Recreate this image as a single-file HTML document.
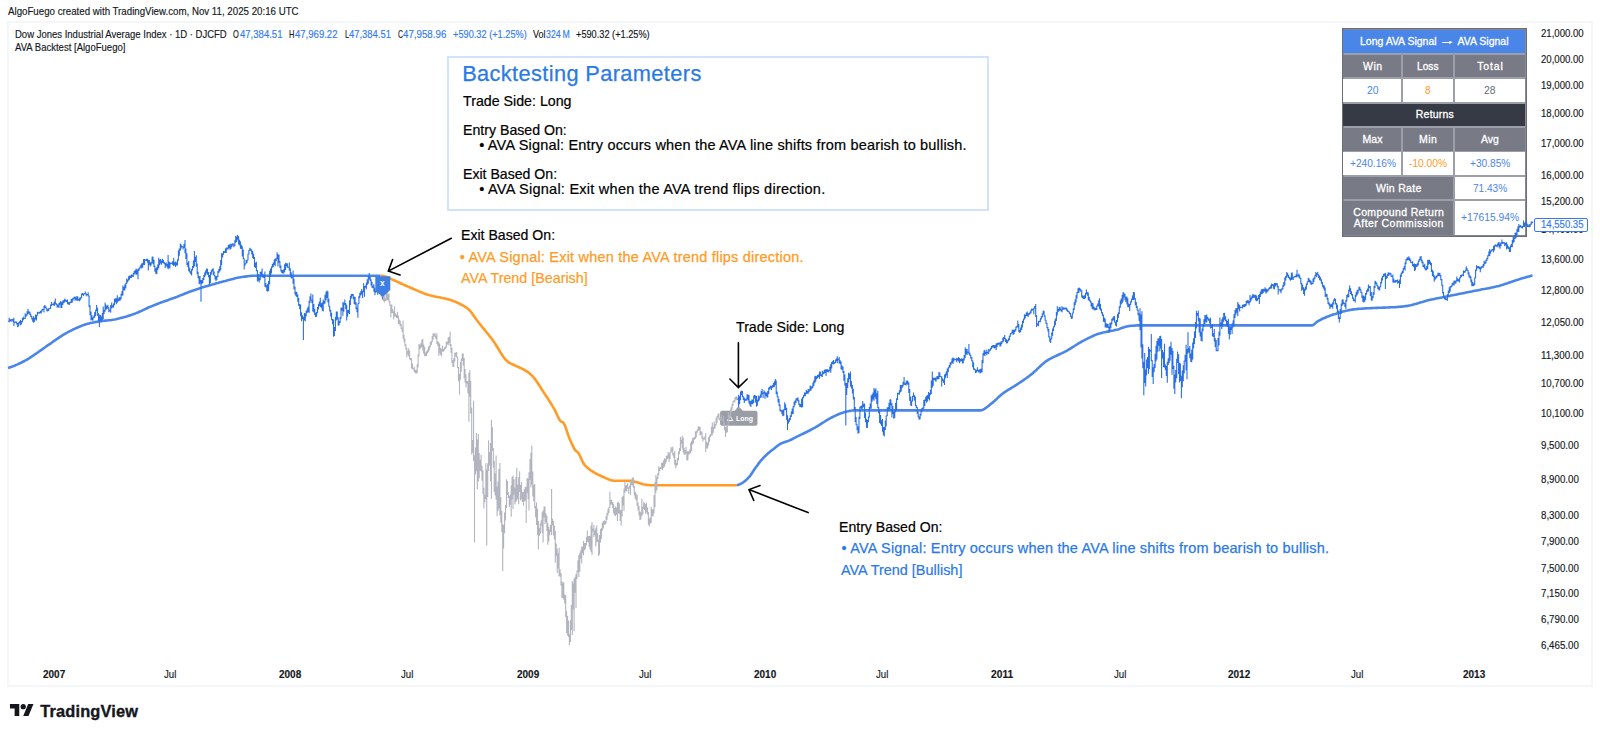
<!DOCTYPE html>
<html lang="en"><head><meta charset="utf-8">
<title>AVA Backtest - Dow Jones Industrial Average Index</title>
<style>
html,body{margin:0;padding:0;background:#fff;}
body{width:1600px;height:735px;position:relative;overflow:hidden;font-family:"Liberation Sans", sans-serif;}
.t{position:absolute;white-space:pre;line-height:1;transform-origin:0 0;font-family:"Liberation Sans", sans-serif;z-index:4;}
#frame{position:absolute;left:7px;top:21px;width:1582px;height:662px;border:2px solid #f5f6f8;box-sizing:content-box;}
#bp{position:absolute;left:447px;top:56px;width:538px;height:151px;border:2px solid #d2e2fb;}
.ar{display:inline-block;transform:scaleX(1.55);margin:0 2.6px;letter-spacing:0;position:relative;top:-0.8px;}
#tbl{position:absolute;z-index:1;}
.c{position:absolute;z-index:2;}
#chart{position:absolute;left:0;top:0;z-index:3;}
#plbox{position:absolute;left:1534px;top:218.2px;width:52.2px;height:12.2px;border:1px solid #3179f5;border-radius:2px;background:#fff;z-index:5;}
</style></head><body>
<div id="frame"></div>
<div id="bp"></div>
<div id="tbl" style="left:1341.8px;top:28.4px;width:184.8px;height:208.8px;background:#9c9fa8;border:0;box-shadow:inset 0 0 0 1.4px #6b6e79"></div>
<div class="c" style="left:1343.2px;top:29.9px;width:182.0px;height:22.9px;background:#4a86e8"></div>
<div class="c" style="left:1343.2px;top:54.6px;width:57.9px;height:22.7px;background:#787b86"></div>
<div class="c" style="left:1343.2px;top:78.9px;width:57.9px;height:22.9px;background:#fff"></div>
<div class="c" style="left:1343.2px;top:128.0px;width:57.9px;height:22.7px;background:#787b86"></div>
<div class="c" style="left:1343.2px;top:151.9px;width:57.9px;height:23.2px;background:#fff"></div>
<div class="c" style="left:1402.8px;top:54.6px;width:50.4px;height:22.7px;background:#787b86"></div>
<div class="c" style="left:1402.8px;top:78.9px;width:50.4px;height:22.9px;background:#fff"></div>
<div class="c" style="left:1402.8px;top:128.0px;width:50.4px;height:22.7px;background:#787b86"></div>
<div class="c" style="left:1402.8px;top:151.9px;width:50.4px;height:23.2px;background:#fff"></div>
<div class="c" style="left:1454.9px;top:54.6px;width:70.3px;height:22.7px;background:#787b86"></div>
<div class="c" style="left:1454.9px;top:78.9px;width:70.3px;height:22.9px;background:#fff"></div>
<div class="c" style="left:1454.9px;top:128.0px;width:70.3px;height:22.7px;background:#787b86"></div>
<div class="c" style="left:1454.9px;top:151.9px;width:70.3px;height:23.2px;background:#fff"></div>
<div class="c" style="left:1343.2px;top:103.5px;width:182.0px;height:22.4px;background:#363a45"></div>
<div class="c" style="left:1343.2px;top:176.9px;width:110.0px;height:22.5px;background:#787b86"></div>
<div class="c" style="left:1454.9px;top:176.9px;width:70.3px;height:22.5px;background:#fff"></div>
<div class="c" style="left:1343.2px;top:201.0px;width:110.0px;height:34.4px;background:#787b86"></div>
<div class="c" style="left:1454.9px;top:201.0px;width:70.3px;height:34.4px;background:#fff"></div>
<svg id="chart" width="1600" height="735" viewBox="0 0 1600 735">
<g fill="none" stroke-width="2.6" stroke-linejoin="round" stroke-linecap="butt">
<polyline stroke="#4a86e8" points="8.0,368.0 9.5,367.5 11.0,367.0 12.5,366.5 14.0,365.9 15.5,365.2 17.0,364.6 18.5,363.9 20.0,363.2 21.5,362.5 23.0,361.7 24.5,361.0 25.0,360.7 26.0,360.2 27.5,359.3 29.0,358.4 30.5,357.4 32.0,356.4 33.5,355.4 35.0,354.3 36.5,353.3 37.5,352.6 38.0,352.3 39.5,351.2 41.0,350.2 42.5,349.1 44.0,348.0 45.5,347.0 47.0,345.9 48.5,344.8 50.0,343.8 51.5,342.8 53.0,341.7 54.5,340.7 56.0,339.6 57.5,338.6 59.0,337.6 60.5,336.6 62.0,335.6 63.5,334.7 65.0,333.8 66.5,333.0 68.0,332.1 69.5,331.3 71.0,330.6 72.5,329.8 74.0,329.1 75.5,328.4 77.0,327.8 77.6,327.5 78.5,327.1 80.0,326.5 81.5,325.9 83.0,325.3 84.5,324.8 86.0,324.3 87.5,323.8 87.6,323.8 89.0,323.4 90.5,323.1 92.0,322.7 93.5,322.4 95.0,322.1 96.5,321.9 98.0,321.6 99.5,321.4 100.0,321.3 101.0,321.2 102.5,321.0 104.0,320.8 105.5,320.6 107.0,320.5 108.5,320.3 110.0,320.2 111.5,320.0 112.6,319.8 113.0,319.7 114.5,319.5 116.0,319.2 117.5,318.8 119.0,318.5 120.5,318.1 122.0,317.7 123.5,317.3 125.0,316.9 126.5,316.5 128.0,316.0 129.5,315.5 131.0,315.0 132.5,314.5 134.0,313.9 135.5,313.4 137.0,312.8 137.7,312.5 138.5,312.2 140.0,311.5 141.5,310.9 143.0,310.1 144.5,309.4 146.0,308.7 147.5,308.0 149.0,307.3 150.0,306.9 150.5,306.7 152.0,306.1 153.5,305.5 155.0,304.9 156.5,304.3 158.0,303.7 159.5,303.1 161.0,302.5 162.5,302.0 162.7,301.9 164.0,301.4 165.5,300.9 167.0,300.4 168.5,299.9 170.0,299.3 171.5,298.8 173.0,298.3 174.5,297.8 175.2,297.5 176.0,297.2 177.5,296.6 179.0,296.0 180.5,295.4 182.0,294.8 183.5,294.2 185.0,293.5 186.5,293.0 187.7,292.5 188.0,292.4 189.5,291.8 191.0,291.3 192.5,290.7 194.0,290.2 195.5,289.7 197.0,289.2 198.5,288.7 200.0,288.2 201.5,287.7 201.8,287.6 203.0,287.2 204.5,286.8 206.0,286.3 207.5,285.9 209.0,285.4 210.5,285.0 212.0,284.6 213.5,284.2 215.0,283.7 216.5,283.3 218.0,282.9 219.5,282.5 221.0,282.1 222.5,281.7 224.0,281.3 225.3,281.0 225.5,280.9 227.0,280.5 228.5,280.1 230.0,279.7 231.5,279.3 233.0,278.9 234.5,278.5 236.0,278.1 237.5,277.8 239.0,277.5 240.3,277.3 240.5,277.3 242.0,277.0 243.5,276.8 245.0,276.6 246.5,276.4 248.0,276.2 249.5,276.0 251.0,275.9 252.5,275.8 253.4,275.8 254.0,275.8 255.5,275.8 257.0,275.7 258.5,275.7 260.0,275.7 261.5,275.7 262.0,275.7 263.0,275.7 264.5,275.7 266.0,275.7 267.5,275.7 269.0,275.7 270.5,275.7 272.0,275.7 273.5,275.7 275.0,275.7 276.5,275.7 278.0,275.7 279.5,275.7 281.0,275.7 282.5,275.7 284.0,275.7 285.5,275.7 287.0,275.7 288.5,275.7 290.0,275.7 291.5,275.7 293.0,275.7 294.5,275.7 296.0,275.7 297.5,275.7 299.0,275.7 300.5,275.7 302.0,275.7 303.5,275.7 305.0,275.7 306.5,275.7 308.0,275.7 309.5,275.7 311.0,275.7 312.5,275.7 314.0,275.7 315.5,275.7 317.0,275.7 318.5,275.7 320.0,275.7 321.5,275.7 323.0,275.7 324.5,275.7 326.0,275.7 327.5,275.7 329.0,275.7 330.5,275.7 332.0,275.7 333.5,275.7 335.0,275.7 336.5,275.7 338.0,275.7 339.5,275.7 341.0,275.7 342.5,275.7 344.0,275.7 345.5,275.7 347.0,275.7 348.5,275.7 350.0,275.7 351.5,275.7 353.0,275.7 354.5,275.7 356.0,275.7 357.5,275.7 359.0,275.7 360.5,275.7 362.0,275.7 363.5,275.7 365.0,275.7 366.5,275.7 368.0,275.7 369.5,275.7 371.0,275.7 372.5,275.7 374.0,275.7 375.5,275.7 377.0,275.7 378.5,275.7 380.0,275.7 380.5,275.7"/>
<polyline stroke="#ff9b26" points="380.5,275.7 382.0,275.8 383.5,276.1 385.0,276.4 386.5,276.9 388.0,277.5 389.5,278.2 391.0,278.9 391.4,279.1 392.5,279.6 394.0,280.2 395.5,280.9 397.0,281.6 398.5,282.3 400.0,283.0 401.5,283.7 403.0,284.4 404.5,285.0 406.0,285.7 407.5,286.4 409.0,287.0 410.1,287.5 410.5,287.7 412.0,288.3 413.5,289.0 415.0,289.6 416.5,290.3 418.0,290.9 419.5,291.6 421.0,292.2 422.5,292.8 424.0,293.4 425.5,293.9 427.0,294.4 428.5,294.9 428.9,295.0 430.0,295.3 431.5,295.7 433.0,296.1 434.5,296.4 436.0,296.7 437.5,297.0 439.0,297.3 440.5,297.6 442.0,297.9 443.5,298.2 445.0,298.5 446.5,298.9 448.0,299.2 449.5,299.7 449.6,299.7 451.0,300.1 452.5,300.7 454.0,301.3 455.5,301.9 457.0,302.5 458.0,303.0 458.5,303.2 460.0,304.0 461.5,304.7 463.0,305.5 464.5,306.4 466.0,307.4 467.5,308.5 468.3,309.1 469.0,309.7 470.5,311.3 472.0,313.3 473.5,315.4 475.0,317.6 476.5,319.7 477.7,321.3 478.0,321.7 479.5,323.6 481.0,325.4 482.5,327.3 484.0,329.1 485.5,331.0 487.0,332.8 488.5,334.7 490.0,336.6 491.5,338.5 492.7,340.1 493.0,340.5 494.5,342.7 496.0,345.0 497.5,347.5 499.0,350.0 500.5,352.4 502.0,354.8 503.5,357.0 505.0,359.0 506.5,360.6 507.8,361.7 508.0,361.8 509.5,362.8 511.0,363.6 512.5,364.3 514.0,365.0 515.0,365.5 515.5,365.7 517.0,366.4 518.5,367.1 520.0,367.8 521.5,368.4 523.0,369.2 524.5,370.0 524.7,370.1 526.0,370.9 527.5,371.9 529.0,373.0 530.5,374.2 532.0,375.6 533.5,377.2 535.0,379.1 536.5,381.2 538.0,383.5 539.5,385.8 541.0,388.2 542.5,390.5 543.2,391.6 544.0,392.8 545.5,395.1 547.0,397.3 548.5,399.6 550.0,402.0 551.5,404.4 553.0,406.9 554.5,409.4 556.0,412.4 557.5,415.8 559.0,418.9 560.5,421.1 561.0,421.5 562.0,421.9 563.0,422.3 563.5,422.8 565.0,425.6 566.5,429.9 568.0,434.5 569.5,438.5 571.0,441.9 572.5,445.2 574.0,448.2 575.5,450.5 576.0,451.0 577.0,451.6 577.5,452.0 578.5,453.2 580.0,456.0 581.5,459.3 583.0,462.5 584.5,464.8 586.0,466.4 587.5,467.8 589.0,469.0 590.5,470.1 592.0,471.1 593.5,472.1 593.9,472.3 595.0,473.0 596.5,473.8 598.0,474.6 599.5,475.3 601.0,476.0 602.5,476.7 603.3,477.0 604.0,477.3 605.5,478.0 607.0,478.6 608.5,479.3 610.0,479.9 611.5,480.3 613.0,480.7 614.5,480.8 614.6,480.8 616.0,480.8 617.5,480.8 619.0,480.8 620.5,480.8 622.0,480.8 623.5,480.8 625.0,480.8 626.5,480.8 627.7,480.8 628.0,480.8 629.5,480.9 631.0,481.1 632.5,481.3 634.0,481.6 635.5,482.0 637.0,482.3 637.1,482.3 638.5,482.7 640.0,483.2 641.5,483.7 643.0,484.2 644.5,484.5 644.6,484.5 646.0,484.7 647.5,484.9 649.0,485.0 650.5,485.2 652.0,485.3 653.5,485.3 654.0,485.3 655.0,485.3 656.5,485.3 658.0,485.3 659.5,485.3 661.0,485.3 662.5,485.3 664.0,485.3 665.5,485.3 667.0,485.3 668.5,485.3 670.0,485.3 671.5,485.3 673.0,485.3 674.5,485.3 676.0,485.3 677.5,485.3 679.0,485.3 680.5,485.3 682.0,485.3 683.5,485.3 685.0,485.3 686.5,485.3 688.0,485.3 689.5,485.3 691.0,485.3 692.5,485.3 694.0,485.3 695.5,485.3 697.0,485.3 698.5,485.3 700.0,485.3 701.5,485.3 703.0,485.3 704.5,485.3 706.0,485.3 707.5,485.3 709.0,485.3 710.5,485.3 712.0,485.3 713.5,485.3 715.0,485.3 716.5,485.3 718.0,485.3 719.5,485.3 721.0,485.3 722.5,485.3 724.0,485.3 725.5,485.3 727.0,485.3 728.5,485.3 730.0,485.3 731.5,485.3 733.0,485.3 734.5,485.3 736.0,485.3 737.0,485.3"/>
<polyline stroke="#4a86e8" points="737.0,485.3 738.5,484.8 740.0,484.2 741.5,483.4 742.4,482.9 743.0,482.5 744.5,481.4 746.0,480.1 747.5,478.7 749.0,477.1 750.5,475.3 752.0,473.1 753.5,470.8 755.0,468.6 755.7,467.6 756.5,466.5 758.0,464.4 759.5,462.4 761.0,460.5 761.4,460.0 762.5,458.8 764.0,457.2 765.5,455.8 767.0,454.4 767.1,454.3 768.5,453.1 770.0,451.8 771.5,450.6 772.9,449.5 773.0,449.4 774.5,448.2 776.0,447.0 777.5,445.8 779.0,444.7 780.5,443.8 782.0,443.1 783.5,442.5 785.0,442.0 786.5,441.5 788.0,441.0 789.5,440.4 790.0,440.2 791.0,439.7 792.5,439.0 794.0,438.2 795.1,437.6 795.5,437.4 797.0,436.6 798.5,435.9 800.0,435.2 801.5,434.4 803.0,433.7 804.5,433.0 806.0,432.3 807.5,431.5 809.0,430.8 810.5,430.0 812.0,429.2 813.5,428.4 813.9,428.2 815.0,427.6 816.5,426.7 818.0,425.8 819.5,424.9 821.0,423.9 822.5,422.9 824.0,422.0 825.5,421.0 827.0,420.1 828.5,419.2 830.0,418.4 831.5,417.5 832.6,417.0 833.0,416.8 834.5,416.1 836.0,415.4 837.5,414.7 839.0,414.0 840.5,413.4 842.0,412.9 843.5,412.4 843.9,412.3 845.0,412.0 846.5,411.6 848.0,411.3 849.5,410.9 851.0,410.7 852.5,410.5 854.0,410.4 854.2,410.4 855.5,410.4 857.0,410.4 858.5,410.4 860.0,410.4 861.5,410.4 863.0,410.4 864.5,410.4 866.0,410.4 867.5,410.4 869.0,410.4 870.5,410.4 872.0,410.4 873.5,410.4 875.0,410.4 876.5,410.4 878.0,410.4 879.5,410.4 881.0,410.4 882.5,410.4 884.0,410.4 885.5,410.4 887.0,410.4 888.5,410.4 890.0,410.4 891.5,410.4 893.0,410.4 894.5,410.4 896.0,410.4 897.5,410.4 899.0,410.4 900.5,410.4 902.0,410.4 903.5,410.4 905.0,410.4 906.5,410.4 908.0,410.4 909.5,410.4 911.0,410.4 912.5,410.4 914.0,410.4 915.5,410.4 917.0,410.4 918.5,410.4 920.0,410.4 921.5,410.4 923.0,410.4 924.5,410.4 926.0,410.4 927.5,410.4 929.0,410.4 930.5,410.4 932.0,410.4 933.5,410.4 935.0,410.4 936.5,410.4 938.0,410.4 939.5,410.4 941.0,410.4 942.5,410.4 944.0,410.4 945.5,410.4 947.0,410.4 948.5,410.4 950.0,410.4 951.5,410.4 953.0,410.4 954.5,410.4 956.0,410.4 957.5,410.4 959.0,410.4 960.5,410.4 962.0,410.4 963.5,410.4 965.0,410.4 966.5,410.4 968.0,410.4 969.5,410.4 971.0,410.4 972.5,410.4 974.0,410.4 975.5,410.4 977.0,410.4 978.5,410.4 980.0,410.4 981.5,410.2 983.0,409.7 984.5,408.9 986.0,407.8 987.5,406.7 989.0,405.5 990.5,404.2 992.0,403.0 992.2,402.9 993.5,401.9 995.0,400.5 996.5,399.1 998.0,397.6 999.5,396.2 1001.0,394.9 1001.6,394.4 1002.5,393.7 1004.0,392.6 1005.5,391.6 1007.0,390.7 1008.5,389.7 1010.0,388.8 1011.5,387.9 1013.0,387.0 1014.5,386.1 1016.0,385.1 1017.5,384.2 1018.8,383.3 1019.0,383.2 1020.5,382.1 1022.0,381.1 1023.5,380.1 1025.0,379.0 1026.5,378.0 1028.0,376.9 1029.5,375.7 1031.0,374.6 1031.9,373.9 1032.5,373.4 1034.0,372.1 1035.5,370.8 1037.0,369.3 1038.5,367.9 1040.0,366.5 1041.5,365.0 1043.0,363.7 1044.5,362.4 1046.0,361.3 1046.9,360.7 1047.5,360.3 1049.0,359.4 1050.5,358.6 1052.0,357.8 1053.5,357.1 1055.0,356.4 1056.5,355.7 1058.0,355.0 1059.5,354.3 1061.0,353.6 1062.5,352.9 1064.0,352.2 1065.5,351.4 1065.7,351.3 1067.0,350.6 1068.5,349.7 1070.0,348.8 1071.5,347.9 1073.0,346.9 1074.5,346.0 1076.0,345.0 1077.5,344.1 1079.0,343.2 1080.5,342.3 1082.0,341.4 1083.5,340.6 1084.5,340.1 1085.0,339.8 1086.5,339.1 1088.0,338.3 1089.5,337.6 1091.0,336.9 1092.5,336.2 1094.0,335.5 1095.5,334.9 1097.0,334.3 1098.5,333.8 1099.5,333.5 1100.0,333.4 1101.5,333.0 1103.0,332.6 1104.5,332.3 1106.0,331.9 1107.5,331.6 1109.0,331.4 1110.5,331.1 1112.0,330.8 1113.5,330.5 1115.0,330.1 1116.4,329.8 1116.5,329.8 1118.0,329.4 1119.5,328.9 1121.0,328.3 1122.5,327.8 1124.0,327.3 1125.5,326.8 1127.0,326.4 1128.5,326.1 1129.5,326.0 1130.0,325.9 1131.5,325.8 1133.0,325.7 1134.5,325.6 1136.0,325.5 1137.5,325.4 1138.9,325.4 1139.0,325.4 1140.5,325.4 1142.0,325.4 1143.5,325.4 1145.0,325.4 1146.5,325.4 1148.0,325.4 1149.5,325.4 1151.0,325.4 1152.5,325.4 1154.0,325.4 1155.5,325.4 1157.0,325.4 1158.5,325.4 1160.0,325.4 1161.5,325.4 1163.0,325.4 1164.5,325.4 1166.0,325.4 1167.5,325.4 1169.0,325.4 1170.5,325.4 1172.0,325.4 1173.5,325.4 1175.0,325.4 1176.5,325.4 1178.0,325.4 1179.5,325.4 1181.0,325.4 1182.5,325.4 1184.0,325.4 1185.5,325.4 1187.0,325.4 1188.5,325.4 1190.0,325.4 1191.5,325.4 1193.0,325.4 1194.5,325.4 1196.0,325.4 1197.5,325.4 1199.0,325.4 1200.5,325.4 1202.0,325.4 1203.5,325.4 1205.0,325.4 1206.5,325.4 1208.0,325.4 1209.5,325.4 1211.0,325.4 1212.5,325.4 1214.0,325.4 1215.5,325.4 1217.0,325.4 1218.5,325.4 1220.0,325.4 1221.5,325.4 1223.0,325.4 1224.5,325.4 1226.0,325.4 1227.5,325.4 1229.0,325.4 1230.5,325.4 1232.0,325.4 1233.5,325.4 1235.0,325.4 1236.5,325.4 1238.0,325.4 1239.5,325.4 1241.0,325.4 1242.5,325.4 1244.0,325.4 1245.5,325.4 1247.0,325.4 1248.5,325.4 1250.0,325.4 1251.5,325.4 1253.0,325.4 1254.5,325.4 1256.0,325.4 1257.5,325.4 1259.0,325.4 1260.5,325.4 1262.0,325.4 1263.5,325.4 1265.0,325.4 1266.5,325.4 1268.0,325.4 1269.5,325.4 1271.0,325.4 1272.5,325.4 1274.0,325.4 1275.5,325.4 1277.0,325.4 1278.5,325.4 1280.0,325.4 1281.5,325.4 1283.0,325.4 1284.5,325.4 1286.0,325.4 1287.5,325.4 1289.0,325.4 1290.5,325.4 1292.0,325.4 1293.5,325.4 1295.0,325.4 1296.5,325.4 1298.0,325.4 1299.5,325.4 1301.0,325.4 1302.5,325.4 1304.0,325.4 1305.5,325.4 1307.0,325.4 1308.5,325.4 1310.0,325.4 1311.5,325.4 1311.9,325.4 1313.0,325.1 1314.5,324.0 1316.0,322.6 1317.5,321.4 1319.0,320.6 1320.5,319.8 1322.0,319.0 1323.5,318.3 1325.0,317.7 1326.5,317.0 1328.0,316.4 1329.5,315.9 1331.0,315.3 1332.5,314.8 1332.6,314.8 1334.0,314.3 1335.5,313.9 1337.0,313.4 1338.5,312.9 1340.0,312.5 1341.5,312.0 1343.0,311.6 1344.5,311.2 1346.0,310.8 1347.5,310.5 1349.0,310.1 1350.5,309.9 1352.0,309.6 1353.5,309.4 1355.0,309.2 1355.1,309.2 1356.5,309.1 1358.0,308.9 1359.5,308.8 1361.0,308.7 1362.5,308.6 1364.0,308.5 1365.5,308.4 1367.0,308.3 1368.5,308.2 1370.0,308.2 1371.5,308.1 1373.0,308.0 1374.5,308.0 1376.0,307.9 1377.5,307.9 1379.0,307.8 1380.5,307.8 1382.0,307.7 1383.5,307.6 1385.0,307.6 1386.5,307.5 1388.0,307.5 1389.5,307.4 1391.0,307.3 1392.5,307.2 1394.0,307.2 1395.5,307.1 1397.0,307.0 1398.5,306.9 1400.0,306.8 1401.5,306.6 1403.0,306.5 1403.9,306.4 1404.5,306.3 1406.0,306.1 1407.5,305.9 1409.0,305.6 1410.5,305.3 1412.0,304.9 1413.5,304.5 1415.0,304.1 1416.5,303.7 1418.0,303.2 1419.5,302.8 1421.0,302.3 1422.5,301.9 1424.0,301.4 1425.5,301.0 1427.0,300.6 1428.5,300.2 1430.0,299.8 1430.2,299.8 1431.5,299.5 1433.0,299.2 1434.5,298.9 1436.0,298.6 1437.5,298.3 1439.0,298.0 1440.5,297.7 1442.0,297.4 1443.5,297.1 1445.0,296.8 1446.5,296.5 1448.0,296.2 1449.0,296.0 1449.5,295.9 1451.0,295.6 1452.5,295.3 1454.0,295.0 1455.5,294.7 1457.0,294.4 1458.5,294.1 1460.0,293.8 1461.5,293.5 1463.0,293.2 1464.5,292.9 1466.0,292.6 1467.5,292.3 1469.0,292.0 1470.5,291.7 1472.0,291.4 1473.5,291.1 1475.0,290.8 1476.5,290.5 1477.1,290.4 1478.0,290.2 1479.5,289.9 1481.0,289.6 1482.5,289.3 1484.0,289.0 1485.5,288.8 1487.0,288.5 1488.5,288.2 1490.0,287.9 1491.5,287.6 1493.0,287.3 1494.5,286.9 1496.0,286.6 1497.5,286.2 1499.0,285.9 1499.6,285.7 1500.5,285.5 1502.0,285.0 1503.5,284.6 1505.0,284.1 1506.5,283.6 1508.0,283.0 1509.5,282.5 1511.0,282.0 1512.5,281.4 1514.0,280.9 1515.5,280.4 1516.5,280.1 1517.0,279.9 1518.5,279.5 1520.0,279.0 1521.5,278.6 1523.0,278.1 1524.5,277.7 1526.0,277.2 1527.5,276.8 1529.0,276.4 1530.5,276.0 1532.0,275.5 1532.5,275.4"/>
</g>
<path d="M722.1 410.7h12.6l3.7-4.5 4.5 4.5h12.6a2 2 0 0 1 2 2v11a2 2 0 0 1-2 2h-33.4a2 2 0 0 1-2-2v-11a2 2 0 0 1 2-2z" fill="#9b9da6"/>
<path d="M727.3 420.6l2.7-4.8 2.7 4.8z" fill="none" stroke="#fff" stroke-width="1"/>
<g fill="none" stroke-width="1.1" stroke-linecap="butt">
<path stroke="#2a70e4" d="M9.2 317.8V322.2M8.2 321.4h1M9.2 320.3h1M10.1 319.4V321.3M9.1 320.3h1M10.1 320.3h1M11.1 318.9V321.9M10.1 320.3h1M11.1 320.0h1M12.0 319.7V320.5M11.0 320.0h1M12.0 319.9h1M13.0 318.7V321.8M12.0 319.9h1M13.0 321.6h1M13.9 317.8V325.9M12.9 321.6h1M13.9 322.7h1M14.8 321.9V323.0M13.8 322.7h1M14.8 322.2h1M15.8 321.2V322.5M14.8 322.2h1M15.8 322.1h1M16.7 321.8V324.4M15.7 322.1h1M16.7 323.7h1M17.7 323.0V327.3M16.7 323.7h1M17.7 325.5h1M18.6 322.2V326.6M17.6 325.5h1M18.6 323.0h1M19.5 321.2V323.5M18.5 323.0h1M19.5 321.9h1M20.5 320.1V325.3M19.5 321.9h1M20.5 324.0h1M21.4 321.1V324.4M20.4 324.0h1M21.4 321.6h1M22.4 318.1V322.3M21.4 321.6h1M22.4 319.6h1M23.3 316.4V320.2M22.3 319.6h1M23.3 318.3h1M24.2 318.1V318.8M23.2 318.3h1M24.2 318.4h1M25.2 313.3V319.1M24.2 318.4h1M25.2 315.7h1M26.1 314.6V316.7M25.1 315.7h1M26.1 314.9h1M27.1 311.3V315.4M26.1 314.9h1M27.1 312.9h1M28.0 308.8V314.3M27.0 312.9h1M28.0 311.9h1M28.9 311.6V313.5M27.9 311.9h1M28.9 313.0h1M29.9 311.4V315.0M28.9 313.0h1M29.9 314.7h1M30.8 313.7V317.0M29.8 314.7h1M30.8 316.3h1M31.8 315.9V319.4M30.8 316.3h1M31.8 318.3h1M32.7 318.0V321.8M31.7 318.3h1M32.7 321.1h1M33.6 316.3V322.7M32.6 321.1h1M33.6 319.7h1M34.6 317.8V321.8M33.6 319.7h1M34.6 318.3h1M35.5 314.5V319.4M34.5 318.3h1M35.5 316.4h1M36.5 315.0V320.6M35.5 316.4h1M36.5 315.3h1M37.4 311.8V315.8M36.4 315.3h1M37.4 313.3h1M38.3 312.2V313.5M37.3 313.3h1M38.3 312.7h1M39.3 312.0V313.7M38.3 312.7h1M39.3 312.5h1M40.2 311.0V313.2M39.2 312.5h1M40.2 311.7h1M41.2 310.3V313.6M40.2 311.7h1M41.2 311.2h1M42.1 309.0V311.6M41.1 311.2h1M42.1 309.4h1M43.0 309.0V310.1M42.0 309.4h1M43.0 309.7h1M44.0 305.9V312.4M43.0 309.7h1M44.0 307.3h1M44.9 305.1V308.3M43.9 307.3h1M44.9 307.2h1M45.9 306.5V308.5M44.9 307.2h1M45.9 308.2h1M46.8 307.8V311.2M45.8 308.2h1M46.8 309.9h1M47.7 309.2V311.6M46.7 309.9h1M47.7 309.6h1M48.7 308.2V311.0M47.7 309.6h1M48.7 308.5h1M49.6 308.1V309.0M48.6 308.5h1M49.6 308.4h1M50.6 304.6V308.9M49.6 308.4h1M50.6 305.6h1M51.5 302.1V306.0M50.5 305.6h1M51.5 304.5h1M52.4 303.7V305.0M51.4 304.5h1M52.4 304.7h1M53.4 303.4V305.3M52.4 304.7h1M53.4 303.8h1M54.3 301.6V305.9M53.3 303.8h1M54.3 302.2h1M55.3 298.5V304.5M54.3 302.2h1M55.3 303.4h1M56.2 303.0V304.7M55.2 303.4h1M56.2 304.5h1M57.1 304.3V307.4M56.1 304.5h1M57.1 305.1h1M58.1 304.8V307.4M57.1 305.1h1M58.1 306.4h1M59.0 303.1V307.7M58.0 306.4h1M59.0 303.8h1M60.0 302.1V304.7M59.0 303.8h1M60.0 302.4h1M60.9 301.0V308.0M59.9 302.4h1M60.9 305.7h1M61.8 302.3V308.1M60.8 305.7h1M61.8 303.9h1M62.8 300.4V305.1M61.8 303.9h1M62.8 301.0h1M63.7 300.3V303.2M62.7 301.0h1M63.7 301.7h1M64.7 298.6V302.6M63.7 301.7h1M64.7 300.5h1M65.6 299.6V301.6M64.6 300.5h1M65.6 300.6h1M66.5 300.3V301.9M65.5 300.6h1M66.5 300.8h1M67.5 299.5V304.3M66.5 300.8h1M67.5 303.7h1M68.4 302.2V304.6M67.4 303.7h1M68.4 303.6h1M69.4 301.9V305.0M68.4 303.6h1M69.4 302.2h1M70.3 301.9V303.3M69.3 302.2h1M70.3 302.3h1M71.2 299.1V303.1M70.2 302.3h1M71.2 300.4h1M72.2 298.4V302.8M71.2 300.4h1M72.2 299.4h1M73.1 297.8V300.6M72.1 299.4h1M73.1 298.3h1M74.1 296.8V298.6M73.1 298.3h1M74.1 297.2h1M75.0 296.5V300.7M74.0 297.2h1M75.0 298.5h1M75.9 297.2V299.7M74.9 298.5h1M75.9 297.8h1M76.9 296.1V301.0M75.9 297.8h1M76.9 298.6h1M77.8 296.5V300.5M76.8 298.6h1M77.8 299.9h1M78.8 298.9V300.7M77.8 299.9h1M78.8 299.2h1M79.7 297.4V301.2M78.7 299.2h1M79.7 299.3h1M80.6 297.2V299.7M79.6 299.3h1M80.6 297.7h1M81.6 293.6V298.1M80.6 297.7h1M81.6 294.3h1M82.5 293.0V295.1M81.5 294.3h1M82.5 294.1h1M83.5 293.5V295.9M82.5 294.1h1M83.5 294.1h1M84.4 293.3V294.3M83.4 294.1h1M84.4 293.5h1M85.3 291.5V294.1M84.3 293.5h1M85.3 293.9h1M86.3 293.4V296.2M85.3 293.9h1M86.3 294.6h1M87.2 294.4V294.9M86.2 294.6h1M87.2 294.6h1M88.2 292.2V296.5M87.2 294.6h1M88.2 296.0h1M89.1 295.6V306.9M88.1 296.0h1M89.1 306.6h1M90.0 305.2V315.3M89.0 306.6h1M90.0 313.7h1M91.0 311.4V320.5M90.0 313.7h1M91.0 316.3h1M91.9 315.2V320.1M90.9 316.3h1M91.9 319.7h1M92.9 317.6V320.7M91.9 319.7h1M92.9 317.8h1M93.8 315.6V318.6M92.8 317.8h1M93.8 316.2h1M94.7 312.1V317.4M93.7 316.2h1M94.7 313.8h1M95.7 309.8V316.0M94.7 313.8h1M95.7 310.7h1M96.6 305.0V311.0M95.6 310.7h1M96.6 308.2h1M97.6 307.8V315.7M96.6 308.2h1M97.6 314.7h1M98.5 313.3V320.9M97.5 314.7h1M98.5 317.7h1M99.4 314.8V327.0M98.4 317.7h1M99.4 318.9h1M100.4 315.1V320.8M99.4 318.9h1M100.4 319.8h1M101.3 316.5V322.2M100.3 319.8h1M101.3 318.3h1M102.3 312.9V320.1M101.3 318.3h1M102.3 314.3h1M103.2 306.6V319.3M102.2 314.3h1M103.2 311.8h1M104.1 309.8V314.0M103.1 311.8h1M104.1 311.0h1M105.1 302.4V311.7M104.1 311.0h1M105.1 305.0h1M106.0 304.7V309.8M105.0 305.0h1M106.0 308.8h1M107.0 306.0V309.1M106.0 308.8h1M107.0 307.1h1M107.9 304.8V308.3M106.9 307.1h1M107.9 308.0h1M108.8 307.3V312.3M107.8 308.0h1M108.8 310.1h1M109.8 309.8V311.4M108.8 310.1h1M109.8 311.0h1M110.7 305.0V312.7M109.7 311.0h1M110.7 307.5h1M111.7 302.6V308.5M110.7 307.5h1M111.7 306.5h1M112.6 305.4V307.6M111.6 306.5h1M112.6 305.9h1M113.5 303.4V307.7M112.5 305.9h1M113.5 304.1h1M114.5 298.8V305.3M113.5 304.1h1M114.5 301.4h1M115.4 298.2V302.2M114.4 301.4h1M115.4 298.8h1M116.4 298.3V304.3M115.4 298.8h1M116.4 301.7h1M117.3 295.3V302.8M116.3 301.7h1M117.3 299.8h1M118.2 298.6V301.6M117.2 299.8h1M118.2 300.5h1M119.2 297.1V300.7M118.2 300.5h1M119.2 298.5h1M120.1 297.3V300.8M119.1 298.5h1M120.1 298.1h1M121.1 293.7V299.2M120.1 298.1h1M121.1 295.0h1M122.0 291.0V295.8M121.0 295.0h1M122.0 292.2h1M122.9 285.4V295.6M121.9 292.2h1M122.9 289.5h1M123.9 287.0V290.5M122.9 289.5h1M123.9 287.4h1M124.8 284.5V290.5M123.8 287.4h1M124.8 286.8h1M125.8 282.9V288.3M124.8 286.8h1M125.8 283.4h1M126.7 278.4V283.7M125.7 283.4h1M126.7 281.9h1M127.6 279.6V282.4M126.6 281.9h1M127.6 280.1h1M128.6 276.3V280.8M127.6 280.1h1M128.6 278.0h1M129.5 275.6V279.8M128.5 278.0h1M129.5 276.0h1M130.5 275.6V278.1M129.5 276.0h1M130.5 277.0h1M131.4 274.6V277.9M130.4 277.0h1M131.4 275.8h1M132.3 274.8V276.7M131.3 275.8h1M132.3 275.6h1M133.3 272.9V277.0M132.3 275.6h1M133.3 273.4h1M134.2 271.1V274.6M133.2 273.4h1M134.2 272.6h1M135.2 269.9V273.5M134.2 272.6h1M135.2 273.0h1M136.1 268.4V275.3M135.1 273.0h1M136.1 270.4h1M137.0 269.7V274.3M136.0 270.4h1M137.0 270.9h1M138.0 268.8V279.2M137.0 270.9h1M138.0 269.3h1M138.9 268.3V271.1M137.9 269.3h1M138.9 268.9h1M139.9 266.6V269.2M138.9 268.9h1M139.9 267.2h1M140.8 264.7V267.6M139.8 267.2h1M140.8 266.9h1M141.7 263.5V268.5M140.7 266.9h1M141.7 264.3h1M142.7 262.7V267.7M141.7 264.3h1M142.7 264.5h1M143.6 258.9V264.8M142.6 264.5h1M143.6 263.5h1M144.6 259.1V265.1M143.6 263.5h1M144.6 260.2h1M145.5 259.5V260.5M144.5 260.2h1M145.5 260.0h1M146.4 258.8V261.1M145.4 260.0h1M146.4 260.0h1M147.4 258.7V262.6M146.4 260.0h1M147.4 262.2h1M148.3 259.7V270.4M147.3 262.2h1M148.3 264.4h1M149.3 259.9V264.7M148.3 264.4h1M149.3 263.4h1M150.2 262.5V266.4M149.2 263.4h1M150.2 264.4h1M151.1 261.9V265.4M150.1 264.4h1M151.1 262.6h1M152.1 256.8V262.8M151.1 262.6h1M152.1 258.2h1M153.0 256.5V264.2M152.0 258.2h1M153.0 261.7h1M154.0 259.8V267.1M153.0 261.7h1M154.0 266.2h1M154.9 265.7V271.7M153.9 266.2h1M154.9 271.2h1M155.8 268.2V273.7M154.8 271.2h1M155.8 271.5h1M156.8 267.3V274.2M155.8 271.5h1M156.8 269.1h1M157.7 264.5V270.2M156.7 269.1h1M157.7 265.9h1M158.7 257.8V268.2M157.7 265.9h1M158.7 263.1h1M159.6 259.5V265.2M158.6 263.1h1M159.6 261.5h1M160.5 259.1V263.6M159.5 261.5h1M160.5 262.7h1M161.5 260.5V264.7M160.5 262.7h1M161.5 262.2h1M162.4 258.8V263.1M161.4 262.2h1M162.4 260.9h1M163.4 260.1V263.3M162.4 260.9h1M163.4 262.3h1M164.3 262.1V264.2M163.3 262.3h1M164.3 263.5h1M165.2 263.0V268.0M164.2 263.5h1M165.2 264.2h1M166.2 262.6V265.8M165.2 264.2h1M166.2 265.1h1M167.1 263.9V267.6M166.1 265.1h1M167.1 266.8h1M168.1 255.1V269.3M167.1 266.8h1M168.1 267.8h1M169.0 261.4V268.0M168.0 267.8h1M169.0 266.5h1M169.9 262.2V268.4M168.9 266.5h1M169.9 263.6h1M170.9 263.0V264.1M169.9 263.6h1M170.9 263.3h1M171.8 262.5V264.1M170.8 263.3h1M171.8 263.8h1M172.8 261.0V264.9M171.8 263.8h1M172.8 262.2h1M173.7 257.7V265.9M172.7 262.2h1M173.7 264.6h1M174.6 262.3V265.2M173.6 264.6h1M174.6 264.9h1M175.6 261.6V266.9M174.6 264.9h1M175.6 262.9h1M176.5 262.5V265.5M175.5 262.9h1M176.5 264.5h1M177.5 259.4V265.6M176.5 264.5h1M177.5 259.8h1M178.4 250.5V260.7M177.4 259.8h1M178.4 254.3h1M179.3 248.4V255.7M178.3 254.3h1M179.3 249.5h1M180.3 243.5V250.8M179.3 249.5h1M180.3 245.1h1M181.2 244.4V248.4M180.2 245.1h1M181.2 246.6h1M182.2 246.0V247.1M181.2 246.6h1M182.2 246.8h1M183.1 246.4V249.5M182.1 246.8h1M183.1 247.5h1M184.0 243.8V247.8M183.0 247.5h1M184.0 245.7h1M185.0 239.9V253.2M184.0 245.7h1M185.0 249.4h1M185.9 248.5V259.0M184.9 249.4h1M185.9 258.0h1M186.9 253.2V264.9M185.9 258.0h1M186.9 264.3h1M187.8 262.5V267.0M186.8 264.3h1M187.8 266.0h1M188.7 260.9V271.2M187.7 266.0h1M188.7 268.9h1M189.7 267.4V272.6M188.7 268.9h1M189.7 271.7h1M190.6 271.2V274.1M189.6 271.7h1M190.6 273.8h1M191.6 269.1V275.4M190.6 273.8h1M191.6 270.0h1M192.5 265.9V270.6M191.5 270.0h1M192.5 266.9h1M193.4 260.4V268.0M192.4 266.9h1M193.4 262.4h1M194.4 251.1V266.5M193.4 262.4h1M194.4 258.9h1M195.3 257.1V261.9M194.3 258.9h1M195.3 257.4h1M196.3 255.3V266.7M195.3 257.4h1M196.3 265.3h1M197.2 263.6V274.2M196.2 265.3h1M197.2 273.0h1M198.1 271.7V278.3M197.1 273.0h1M198.1 276.8h1M199.1 276.2V284.3M198.1 276.8h1M199.1 279.2h1M200.0 275.9V283.6M199.0 279.2h1M200.0 280.7h1M201.0 280.1V301.7M200.0 280.7h1M201.0 283.6h1M201.9 279.9V283.9M200.9 283.6h1M201.9 281.3h1M202.8 278.1V283.0M201.8 281.3h1M202.8 278.5h1M203.8 274.9V279.9M202.8 278.5h1M203.8 276.1h1M204.7 272.4V276.9M203.7 276.1h1M204.7 272.9h1M205.7 270.2V275.4M204.7 272.9h1M205.7 272.1h1M206.6 268.6V273.5M205.6 272.1h1M206.6 270.8h1M207.5 268.8V274.8M206.5 270.8h1M207.5 274.3h1M208.5 272.0V277.3M207.5 274.3h1M208.5 276.5h1M209.4 275.0V285.5M208.4 276.5h1M209.4 279.6h1M210.4 272.1V283.0M209.4 279.6h1M210.4 274.1h1M211.3 270.2V274.8M210.3 274.1h1M211.3 271.1h1M212.2 269.1V271.4M211.2 271.1h1M212.2 269.4h1M213.2 268.2V274.7M212.2 269.4h1M213.2 273.7h1M214.1 271.6V276.1M213.1 273.7h1M214.1 275.8h1M215.1 275.3V279.6M214.1 275.8h1M215.1 278.1h1M216.0 276.3V281.0M215.0 278.1h1M216.0 279.3h1M216.9 275.9V279.7M215.9 279.3h1M216.9 276.5h1M217.9 270.9V276.9M216.9 276.5h1M217.9 271.7h1M218.8 268.9V273.0M217.8 271.7h1M218.8 270.6h1M219.8 266.3V271.6M218.8 270.6h1M219.8 269.6h1M220.7 259.9V270.3M219.7 269.6h1M220.7 262.1h1M221.6 253.2V265.2M220.6 262.1h1M221.6 256.8h1M222.6 253.3V257.6M221.6 256.8h1M222.6 253.9h1M223.5 250.9V254.7M222.5 253.9h1M223.5 251.7h1M224.5 251.2V253.0M223.5 251.7h1M224.5 251.7h1M225.4 248.5V253.0M224.4 251.7h1M225.4 250.9h1M226.3 247.6V252.9M225.3 250.9h1M226.3 248.0h1M227.3 247.8V249.4M226.3 248.0h1M227.3 248.2h1M228.2 245.3V249.5M227.2 248.2h1M228.2 246.5h1M229.2 244.2V247.9M228.2 246.5h1M229.2 247.7h1M230.1 244.5V249.8M229.1 247.7h1M230.1 245.7h1M231.0 243.4V248.8M230.0 245.7h1M231.0 245.3h1M232.0 244.2V246.8M231.0 245.3h1M232.0 244.6h1M232.9 243.0V245.5M231.9 244.6h1M232.9 244.9h1M233.9 244.4V247.2M232.9 244.9h1M233.9 245.2h1M234.8 240.3V245.9M233.8 245.2h1M234.8 241.2h1M235.7 235.8V242.8M234.7 241.2h1M235.7 240.4h1M236.7 236.5V242.1M235.7 240.4h1M236.7 238.3h1M237.6 235.0V239.7M236.6 238.3h1M237.6 238.8h1M238.6 236.2V244.5M237.6 238.8h1M238.6 242.2h1M239.5 239.8V245.4M238.5 242.2h1M239.5 242.5h1M240.4 241.3V248.8M239.4 242.5h1M240.4 247.0h1M241.4 244.8V249.1M240.4 247.0h1M241.4 248.2h1M242.3 246.3V256.5M241.3 248.2h1M242.3 250.4h1M243.3 249.6V259.2M242.3 250.4h1M243.3 258.8h1M244.2 258.2V269.5M243.2 258.8h1M244.2 264.9h1M245.1 263.4V265.5M244.1 264.9h1M245.1 263.7h1M246.1 260.0V264.1M245.1 263.7h1M246.1 262.1h1M247.0 259.7V263.0M246.0 262.1h1M247.0 260.0h1M248.0 253.8V260.3M247.0 260.0h1M248.0 254.0h1M248.9 250.1V254.5M247.9 254.0h1M248.9 250.5h1M249.8 247.8V251.1M248.8 250.5h1M249.8 249.1h1M250.8 248.7V250.8M249.8 249.1h1M250.8 250.2h1M251.7 249.5V254.5M250.7 250.2h1M251.7 253.3h1M252.7 250.9V258.1M251.7 253.3h1M252.7 257.1h1M253.6 253.8V259.0M252.6 257.1h1M253.6 258.3h1M254.5 257.1V267.1M253.5 258.3h1M254.5 263.0h1M255.5 262.7V267.9M254.5 263.0h1M255.5 264.0h1M256.4 261.7V271.3M255.4 264.0h1M256.4 270.5h1M257.4 269.9V281.5M256.4 270.5h1M257.4 275.5h1M258.3 274.0V280.8M257.3 275.5h1M258.3 280.3h1M259.2 277.6V282.5M258.2 280.3h1M259.2 278.4h1M260.2 271.9V280.2M259.2 278.4h1M260.2 274.3h1M261.1 271.5V275.0M260.1 274.3h1M261.1 272.4h1M262.1 268.5V277.4M261.1 272.4h1M262.1 275.9h1M263.0 274.2V277.4M262.0 275.9h1M263.0 275.0h1M263.9 274.5V278.0M262.9 275.0h1M263.9 275.2h1M264.9 271.6V286.8M263.9 275.2h1M264.9 283.5h1M265.8 283.1V287.5M264.8 283.5h1M265.8 286.7h1M266.8 285.3V291.0M265.8 286.7h1M266.8 289.7h1M267.7 283.9V291.7M266.7 289.7h1M267.7 289.9h1M268.6 280.9V291.1M267.6 289.9h1M268.6 283.9h1M269.6 270.7V284.2M268.6 283.9h1M269.6 275.4h1M270.5 268.5V276.9M269.5 275.4h1M270.5 270.2h1M271.5 266.4V273.6M270.5 270.2h1M271.5 266.9h1M272.4 264.1V267.7M271.4 266.9h1M272.4 264.5h1M273.3 262.6V266.9M272.3 264.5h1M273.3 264.0h1M274.3 259.4V265.1M273.3 264.0h1M274.3 259.8h1M275.2 258.5V266.3M274.2 259.8h1M275.2 260.0h1M276.2 258.2V261.0M275.2 260.0h1M276.2 258.4h1M277.1 252.2V259.1M276.1 258.4h1M277.1 254.6h1M278.0 254.4V266.5M277.0 254.6h1M278.0 257.7h1M279.0 254.6V262.8M278.0 257.7h1M279.0 262.2h1M279.9 261.1V267.9M278.9 262.2h1M279.9 266.3h1M280.9 265.5V271.6M279.9 266.3h1M280.9 270.6h1M281.8 269.9V273.0M280.8 270.6h1M281.8 272.4h1M282.7 269.9V273.4M281.7 272.4h1M282.7 272.5h1M283.7 269.3V273.4M282.7 272.5h1M283.7 271.8h1M284.6 264.2V272.2M283.6 271.8h1M284.6 267.6h1M285.6 262.8V270.0M284.6 267.6h1M285.6 265.1h1M286.5 263.2V266.2M285.5 265.1h1M286.5 263.7h1M287.4 263.4V267.8M286.4 263.7h1M287.4 267.1h1M288.4 266.6V267.6M287.4 267.1h1M288.4 267.2h1M289.3 262.4V270.8M288.3 267.2h1M289.3 269.6h1M290.3 268.2V275.4M289.3 269.6h1M290.3 273.3h1M291.2 272.3V278.4M290.2 273.3h1M291.2 277.5h1M292.1 276.3V278.3M291.1 277.5h1M292.1 278.0h1M293.1 270.6V283.8M292.1 278.0h1M293.1 280.8h1M294.0 278.7V289.3M293.0 280.8h1M294.0 287.4h1M295.0 286.5V294.4M294.0 287.4h1M295.0 292.3h1M295.9 291.9V296.2M294.9 292.3h1M295.9 295.2h1M296.8 291.7V297.1M295.8 295.2h1M296.8 295.0h1M297.8 294.5V301.7M296.8 295.0h1M297.8 298.9h1M298.7 297.9V306.0M297.7 298.9h1M298.7 304.6h1M299.7 304.1V309.3M298.7 304.6h1M299.7 306.9h1M300.6 304.4V316.3M299.6 306.9h1M300.6 312.9h1M301.5 312.3V321.3M300.5 312.9h1M301.5 315.8h1M302.5 315.5V319.2M301.5 315.8h1M302.5 318.5h1M303.4 316.8V340.0M302.4 318.5h1M303.4 319.1h1M304.4 312.9V320.4M303.4 319.1h1M304.4 313.9h1M305.3 313.5V321.3M304.3 313.9h1M305.3 314.5h1M306.2 310.8V316.2M305.2 314.5h1M306.2 312.4h1M307.2 308.5V313.1M306.2 312.4h1M307.2 310.2h1M308.1 306.5V312.1M307.1 310.2h1M308.1 309.8h1M309.1 300.8V313.1M308.1 309.8h1M309.1 301.3h1M310.0 296.2V303.0M309.0 301.3h1M310.0 296.9h1M310.9 293.5V300.7M309.9 296.9h1M310.9 300.1h1M311.9 299.8V303.2M310.9 300.1h1M311.9 302.6h1M312.8 294.6V311.6M311.8 302.6h1M312.8 306.4h1M313.8 304.1V312.4M312.8 306.4h1M313.8 309.8h1M314.7 308.8V315.1M313.7 309.8h1M314.7 313.3h1M315.6 312.7V317.0M314.6 313.3h1M315.6 315.7h1M316.6 311.9V316.8M315.6 315.7h1M316.6 312.4h1M317.5 307.0V313.2M316.5 312.4h1M317.5 308.5h1M318.5 303.7V309.5M317.5 308.5h1M318.5 305.4h1M319.4 301.6V305.9M318.4 305.4h1M319.4 303.8h1M320.3 297.8V307.1M319.3 303.8h1M320.3 305.2h1M321.3 303.3V307.7M320.3 305.2h1M321.3 305.4h1M322.2 302.6V310.7M321.2 305.4h1M322.2 308.0h1M323.2 299.5V311.6M322.2 308.0h1M323.2 303.0h1M324.1 300.9V304.2M323.1 303.0h1M324.1 302.1h1M325.0 294.7V303.6M324.0 302.1h1M325.0 296.2h1M326.0 291.8V300.6M325.0 296.2h1M326.0 293.0h1M326.9 290.5V298.1M325.9 293.0h1M326.9 293.8h1M327.9 291.2V302.4M326.9 293.8h1M327.9 300.6h1M328.8 298.8V306.6M327.8 300.6h1M328.8 306.2h1M329.7 305.8V311.5M328.7 306.2h1M329.7 310.3h1M330.7 310.0V316.5M329.7 310.3h1M330.7 314.2h1M331.6 312.7V320.3M330.6 314.2h1M331.6 319.6h1M332.6 318.9V324.3M331.6 319.6h1M332.6 324.0h1M333.5 319.4V336.8M332.5 324.0h1M333.5 330.5h1M334.4 327.1V336.0M333.4 330.5h1M334.4 328.3h1M335.4 316.9V330.9M334.4 328.3h1M335.4 317.6h1M336.3 311.6V320.6M335.3 317.6h1M336.3 312.0h1M337.3 311.6V319.4M336.3 312.0h1M337.3 317.9h1M338.2 317.2V325.8M337.2 317.9h1M338.2 324.9h1M339.1 321.0V325.2M338.1 324.9h1M339.1 321.9h1M340.1 317.3V322.9M339.1 321.9h1M340.1 318.4h1M341.0 307.6V318.7M340.0 318.4h1M341.0 309.4h1M342.0 307.8V310.8M341.0 309.4h1M342.0 308.7h1M342.9 301.9V315.7M341.9 308.7h1M342.9 307.0h1M343.8 302.8V311.8M342.8 307.0h1M343.8 303.7h1M344.8 299.4V305.0M343.8 303.7h1M344.8 304.5h1M345.7 303.1V309.3M344.7 304.5h1M345.7 308.7h1M346.7 304.7V320.5M345.7 308.7h1M346.7 310.6h1M347.6 310.1V316.7M346.6 310.6h1M347.6 312.6h1M348.5 309.9V313.0M347.5 312.6h1M348.5 310.2h1M349.5 300.2V314.1M348.5 310.2h1M349.5 304.5h1M350.4 295.7V305.0M349.4 304.5h1M350.4 298.1h1M351.4 293.9V298.5M350.4 298.1h1M351.4 295.2h1M352.3 293.9V296.1M351.3 295.2h1M352.3 294.6h1M353.2 294.0V299.2M352.2 294.6h1M353.2 298.5h1M354.2 296.4V304.1M353.2 298.5h1M354.2 301.0h1M355.1 297.0V304.7M354.1 301.0h1M355.1 302.9h1M356.1 302.2V309.2M355.1 302.9h1M356.1 308.3h1M357.0 307.6V312.2M356.0 308.3h1M357.0 310.1h1M357.9 303.5V317.7M356.9 310.1h1M357.9 303.8h1M358.9 295.9V304.1M357.9 303.8h1M358.9 297.5h1M359.8 292.7V298.3M358.8 297.5h1M359.8 294.6h1M360.8 291.3V295.4M359.8 294.6h1M360.8 291.6h1M361.7 288.9V294.4M360.7 291.6h1M361.7 293.7h1M362.6 290.7V298.0M361.6 293.7h1M362.6 291.3h1M363.6 283.2V292.1M362.6 291.3h1M363.6 291.9h1M364.5 286.0V296.8M363.5 291.9h1M364.5 287.1h1M365.5 285.6V287.7M364.5 287.1h1M365.5 287.1h1M366.4 282.5V289.2M365.4 287.1h1M366.4 283.5h1M367.3 279.3V285.0M366.3 283.5h1M367.3 282.3h1M368.3 276.4V283.8M367.3 282.3h1M368.3 278.6h1M369.2 273.0V279.6M368.2 278.6h1M369.2 279.0h1M370.2 277.1V281.1M369.2 279.0h1M370.2 280.4h1M371.1 279.2V285.4M370.1 280.4h1M371.1 282.5h1M372.0 281.8V287.8M371.0 282.5h1M372.0 286.4h1M373.0 285.5V288.1M372.0 286.4h1M373.0 286.1h1M373.9 284.3V291.8M372.9 286.1h1M373.9 289.4h1M374.9 287.7V295.2M373.9 289.4h1M374.9 291.3h1M375.8 290.5V292.7M374.8 291.3h1M375.8 290.8h1M376.7 289.1V292.0M375.7 290.8h1M376.7 290.3h1M377.7 288.1V294.8M376.7 290.3h1M377.7 288.4h1M378.6 286.7V293.2M377.6 288.4h1M378.6 291.6h1M379.6 291.1V294.0M378.6 291.6h1M379.6 293.2h1M380.5 292.9V294.4M379.5 293.2h1M380.5 293.6h1M381.4 292.8V296.3M380.4 293.6h1M381.4 294.5h1M382.4 294.1V299.4M381.4 294.5h1M382.4 296.1h1"/>
<path stroke="#b2b5bf" d="M383.3 295.6V301.0M382.3 296.1h1M383.3 298.7h1M384.3 295.3V302.6M383.3 298.7h1M384.3 299.6h1M385.2 298.6V301.0M384.2 299.6h1M385.2 300.4h1M386.1 293.1V300.6M385.1 300.4h1M386.1 299.7h1M387.1 287.7V300.1M386.1 299.7h1M387.1 295.6h1M388.0 294.3V300.2M387.0 295.6h1M388.0 297.5h1M389.0 293.3V302.5M388.0 297.5h1M389.0 302.0h1M389.9 300.9V305.9M388.9 302.0h1M389.9 305.1h1M390.8 304.8V317.4M389.8 305.1h1M390.8 307.2h1M391.8 304.4V313.1M390.8 307.2h1M391.8 310.5h1M392.7 308.9V313.3M391.7 310.5h1M392.7 312.6h1M393.7 311.3V319.5M392.7 312.6h1M393.7 314.5h1M394.6 306.3V316.4M393.6 314.5h1M394.6 313.7h1M395.5 313.4V316.7M394.5 313.7h1M395.5 315.6h1M396.5 314.6V317.9M395.5 315.6h1M396.5 315.6h1M397.4 311.8V318.3M396.4 315.6h1M397.4 316.5h1M398.4 315.4V324.1M397.4 316.5h1M398.4 320.6h1M399.3 319.5V324.3M398.3 320.6h1M399.3 321.4h1M400.2 320.8V326.2M399.2 321.4h1M400.2 324.4h1M401.2 323.9V329.1M400.2 324.4h1M401.2 328.4h1M402.1 327.5V332.1M401.1 328.4h1M402.1 330.7h1M403.1 320.4V338.5M402.1 330.7h1M403.1 336.0h1M404.0 334.8V341.5M403.0 336.0h1M404.0 341.1h1M404.9 338.6V346.0M403.9 341.1h1M404.9 344.9h1M405.9 344.3V349.8M404.9 344.9h1M405.9 349.0h1M406.8 347.7V357.3M405.8 349.0h1M406.8 351.9h1M407.8 350.8V354.6M406.8 351.9h1M407.8 354.1h1M408.7 348.3V356.6M407.7 354.1h1M408.7 355.5h1M409.6 350.5V359.2M408.6 355.5h1M409.6 359.0h1M410.6 358.0V360.2M409.6 359.0h1M410.6 359.0h1M411.5 358.0V368.4M410.5 359.0h1M411.5 365.3h1M412.5 363.6V369.0M411.5 365.3h1M412.5 368.6h1M413.4 368.4V369.4M412.4 368.6h1M413.4 368.9h1M414.3 366.8V371.9M413.3 368.9h1M414.3 371.6h1M415.3 369.8V373.2M414.3 371.6h1M415.3 372.7h1M416.2 369.8V373.5M415.2 372.7h1M416.2 372.5h1M417.2 364.3V373.2M416.2 372.5h1M417.2 364.8h1M418.1 354.6V367.5M417.1 364.8h1M418.1 355.5h1M419.0 344.0V356.2M418.0 355.5h1M419.0 348.3h1M420.0 344.8V349.3M419.0 348.3h1M420.0 345.7h1M420.9 343.3V347.9M419.9 345.7h1M420.9 343.5h1M421.9 339.7V347.1M420.9 343.5h1M421.9 341.6h1M422.8 339.1V350.5M421.8 341.6h1M422.8 345.2h1M423.7 344.5V353.7M422.7 345.2h1M423.7 351.1h1M424.7 346.8V356.2M423.7 351.1h1M424.7 355.5h1M425.6 352.5V355.9M424.6 355.5h1M425.6 354.8h1M426.6 351.4V355.9M425.6 354.8h1M426.6 351.7h1M427.5 349.7V353.3M426.5 351.7h1M427.5 350.7h1M428.4 346.6V352.2M427.4 350.7h1M428.4 347.9h1M429.4 345.4V350.3M428.4 347.9h1M429.4 346.0h1M430.3 342.1V347.3M429.3 346.0h1M430.3 343.1h1M431.3 341.1V345.1M430.3 343.1h1M431.3 341.7h1M432.2 335.9V341.9M431.2 341.7h1M432.2 338.6h1M433.1 333.3V339.7M432.1 338.6h1M433.1 334.5h1M434.1 334.2V336.3M433.1 334.5h1M434.1 334.8h1M435.0 332.8V337.4M434.0 334.8h1M435.0 336.0h1M436.0 335.7V339.1M435.0 336.0h1M436.0 338.0h1M436.9 333.3V344.0M435.9 338.0h1M436.9 342.1h1M437.8 341.5V345.9M436.8 342.1h1M437.8 344.5h1M438.8 342.3V356.1M437.8 344.5h1M438.8 349.7h1M439.7 343.7V353.3M438.7 349.7h1M439.7 350.1h1M440.7 347.9V355.0M439.7 350.1h1M440.7 352.8h1M441.6 349.0V356.6M440.6 352.8h1M441.6 349.9h1M442.5 345.4V351.4M441.5 349.9h1M442.5 350.2h1M443.5 349.0V351.8M442.5 350.2h1M443.5 349.5h1M444.4 347.3V350.6M443.4 349.5h1M444.4 348.2h1M445.4 346.6V348.9M444.4 348.2h1M445.4 347.3h1M446.3 341.4V348.0M445.3 347.3h1M446.3 343.9h1M447.2 341.7V344.6M446.2 343.9h1M447.2 342.9h1M448.2 337.5V345.2M447.2 342.9h1M448.2 339.1h1M449.1 336.8V342.9M448.1 339.1h1M449.1 338.6h1M450.1 331.4V346.0M449.1 338.6h1M450.1 345.0h1M451.0 344.0V352.8M450.0 345.0h1M451.0 350.1h1M451.9 347.5V363.1M450.9 350.1h1M451.9 360.5h1M452.9 360.0V367.0M451.9 360.5h1M452.9 364.8h1M453.8 358.2V366.7M452.8 364.8h1M453.8 359.8h1M454.8 352.4V361.6M453.8 359.8h1M454.8 355.4h1M455.7 352.8V356.2M454.7 355.4h1M455.7 353.6h1M456.6 351.9V357.6M455.6 353.6h1M456.6 357.1h1M457.6 356.8V368.0M456.6 357.1h1M457.6 367.7h1M458.5 367.1V381.3M457.5 367.7h1M458.5 379.1h1M459.5 373.9V394.4M458.5 379.1h1M459.5 379.3h1M460.4 362.0V379.7M459.4 379.3h1M460.4 369.1h1M461.3 358.5V371.7M460.3 369.1h1M461.3 359.7h1M462.3 353.4V360.9M461.3 359.7h1M462.3 357.8h1M463.2 353.4V365.8M462.2 357.8h1M463.2 364.3h1M464.2 357.9V378.3M463.2 364.3h1M464.2 372.2h1M465.1 369.1V382.8M464.1 372.2h1M465.1 380.8h1M466.0 374.6V387.6M465.0 380.8h1M466.0 381.9h1M467.0 381.3V383.8M466.0 381.9h1M467.0 382.0h1M467.9 381.1V393.2M466.9 382.0h1M467.9 393.0h1M468.9 372.8V421.8M467.9 393.0h1M468.9 382.0h1M469.8 370.0V396.9M468.8 382.0h1M469.8 391.2h1M470.7 380.9V413.4M469.7 391.2h1M470.7 408.1h1M471.7 407.4V454.4M470.7 408.1h1M471.7 441.6h1M472.6 440.1V452.7M471.6 441.6h1M472.6 452.1h1M473.6 400.7V461.1M472.6 452.1h1M473.6 459.6h1M474.5 455.3V542.2M473.5 459.6h1M474.5 470.7h1M475.4 447.6V474.6M474.4 470.7h1M475.4 452.6h1M476.4 432.9V471.2M475.4 452.6h1M476.4 449.4h1M477.3 439.5V489.3M476.3 449.4h1M477.3 474.4h1M478.3 434.1V481.6M477.3 474.4h1M478.3 476.4h1M479.2 452.9V478.2M478.2 476.4h1M479.2 469.4h1M480.1 459.5V470.8M479.1 469.4h1M480.1 461.7h1M481.1 454.7V471.4M480.1 461.7h1M481.1 469.9h1M482.0 465.7V480.7M481.0 469.9h1M482.0 480.3h1M483.0 470.2V494.0M482.0 480.3h1M483.0 490.6h1M483.9 487.8V508.5M482.9 490.6h1M483.9 501.6h1M484.8 494.4V502.5M483.8 501.6h1M484.8 495.1h1M485.8 463.3V499.1M484.8 495.1h1M485.8 486.1h1M486.7 469.4V545.6M485.7 486.1h1M486.7 476.3h1M487.7 463.3V497.0M486.7 476.3h1M487.7 465.8h1M488.6 440.3V471.1M487.6 465.8h1M488.6 457.2h1M489.5 451.9V465.5M488.5 457.2h1M489.5 452.7h1M490.5 443.0V481.2M489.5 452.7h1M490.5 446.5h1M491.4 419.7V499.0M490.4 446.5h1M491.4 440.1h1M492.4 426.9V450.7M491.4 440.1h1M492.4 448.6h1M493.3 448.1V467.4M492.3 448.6h1M493.3 465.4h1M494.2 460.7V491.8M493.2 465.4h1M494.2 477.4h1M495.2 473.4V495.6M494.2 477.4h1M495.2 488.1h1M496.1 455.5V499.6M495.1 488.1h1M496.1 499.3h1M497.1 486.6V516.3M496.1 499.3h1M497.1 494.4h1M498.0 481.5V511.0M497.0 494.4h1M498.0 486.9h1M498.9 468.9V508.6M497.9 486.9h1M498.9 493.6h1M499.9 463.0V515.2M498.9 493.6h1M499.9 509.8h1M500.8 497.2V522.7M499.8 509.8h1M500.8 519.6h1M501.8 510.7V531.9M500.8 519.6h1M501.8 529.1h1M502.7 523.9V571.3M501.7 529.1h1M502.7 538.0h1M503.6 524.9V548.4M502.6 538.0h1M503.6 529.7h1M504.6 512.4V533.2M503.6 529.7h1M504.6 517.0h1M505.5 504.9V520.6M504.5 517.0h1M505.5 505.9h1M506.5 479.3V508.0M505.5 505.9h1M506.5 490.8h1M507.4 481.1V495.1M506.4 490.8h1M507.4 493.2h1M508.3 492.1V497.9M507.3 493.2h1M508.3 496.4h1M509.3 496.1V507.3M508.3 496.4h1M509.3 501.3h1M510.2 494.5V504.7M509.2 501.3h1M510.2 499.0h1M511.2 485.3V516.8M510.2 499.0h1M511.2 487.4h1M512.1 476.9V499.2M511.1 487.4h1M512.1 480.4h1M513.0 475.5V509.0M512.0 480.4h1M513.0 481.4h1M514.0 479.2V494.8M513.0 481.4h1M514.0 490.3h1M514.9 487.4V504.4M513.9 490.3h1M514.9 494.8h1M515.9 476.7V501.9M514.9 494.8h1M515.9 499.4h1M516.8 467.8V500.5M515.8 499.4h1M516.8 495.7h1M517.7 484.4V498.8M516.7 495.7h1M517.7 490.7h1M518.7 477.2V504.2M517.7 490.7h1M518.7 483.2h1M519.6 471.2V492.1M518.6 483.2h1M519.6 485.9h1M520.6 485.0V500.5M519.6 485.9h1M520.6 489.2h1M521.5 481.9V499.2M520.5 489.2h1M521.5 495.3h1M522.4 492.2V502.1M521.4 495.3h1M522.4 500.3h1M523.4 492.0V505.7M522.4 500.3h1M523.4 497.8h1M524.3 489.0V501.6M523.3 497.8h1M524.3 495.2h1M525.3 487.0V500.8M524.3 495.2h1M525.3 492.7h1M526.2 486.8V522.9M525.2 492.7h1M526.2 490.8h1M527.1 478.1V493.3M526.1 490.8h1M527.1 486.5h1M528.1 478.8V499.0M527.1 486.5h1M528.1 482.1h1M529.0 472.3V510.4M528.0 482.1h1M529.0 473.3h1M530.0 458.9V479.9M529.0 473.3h1M530.0 470.2h1M530.9 453.1V487.5M529.9 470.2h1M530.9 476.6h1M531.8 445.6V484.8M530.8 476.6h1M531.8 484.2h1M532.8 471.6V496.5M531.8 484.2h1M532.8 488.8h1M533.7 484.9V501.2M532.7 488.8h1M533.7 496.4h1M534.7 484.0V508.2M533.7 496.4h1M534.7 506.7h1M535.6 506.0V517.2M534.6 506.7h1M535.6 512.1h1M536.5 502.5V524.9M535.5 512.1h1M536.5 520.6h1M537.5 508.7V535.3M536.5 520.6h1M537.5 526.1h1M538.4 521.1V549.4M537.4 526.1h1M538.4 534.8h1M539.4 527.9V535.7M538.4 534.8h1M539.4 530.9h1M540.3 523.8V533.7M539.3 530.9h1M540.3 524.2h1M541.2 520.3V525.6M540.2 524.2h1M541.2 521.3h1M542.2 512.3V533.0M541.2 521.3h1M542.2 515.5h1M543.1 510.5V542.5M542.1 515.5h1M543.1 511.2h1M544.1 506.4V517.4M543.1 511.2h1M544.1 508.0h1M545.0 506.5V523.9M544.0 508.0h1M545.0 517.0h1M545.9 513.3V522.3M544.9 517.0h1M545.9 522.0h1M546.9 515.7V530.9M545.9 522.0h1M546.9 528.7h1M547.8 522.9V544.8M546.8 528.7h1M547.8 537.4h1M548.8 526.8V541.4M547.8 537.4h1M548.8 534.2h1M549.7 529.4V535.2M548.7 534.2h1M549.7 530.4h1M550.6 524.8V531.9M549.6 530.4h1M550.6 527.7h1M551.6 489.1V535.0M550.6 527.7h1M551.6 521.3h1M552.5 518.8V525.6M551.5 521.3h1M552.5 522.2h1M553.5 521.0V535.4M552.5 522.2h1M553.5 529.1h1M554.4 525.7V539.5M553.4 529.1h1M554.4 535.6h1M555.3 531.1V562.7M554.3 535.6h1M555.3 545.3h1M556.3 543.4V556.3M555.3 545.3h1M556.3 550.8h1M557.2 548.6V573.1M556.2 550.8h1M557.2 560.4h1M558.2 553.3V568.4M557.2 560.4h1M558.2 564.5h1M559.1 547.8V576.0M558.1 564.5h1M559.1 572.8h1M560.0 569.0V577.1M559.0 572.8h1M560.0 576.5h1M561.0 573.0V585.7M560.0 576.5h1M561.0 583.5h1M561.9 581.1V597.7M560.9 583.5h1M561.9 590.3h1M562.9 583.3V598.1M561.9 590.3h1M562.9 596.2h1M563.8 582.3V599.8M562.8 596.2h1M563.8 597.9h1M564.7 594.4V603.6M563.7 597.9h1M564.7 600.8h1M565.7 595.2V617.1M564.7 600.8h1M565.7 612.1h1M566.6 611.2V632.9M565.6 612.1h1M566.6 618.9h1M567.6 615.9V635.5M566.6 618.9h1M567.6 627.5h1M568.5 620.6V637.1M567.5 627.5h1M568.5 634.3h1M569.4 634.0V645.2M568.4 634.3h1M569.4 639.0h1M570.4 620.2V641.9M569.4 639.0h1M570.4 624.2h1M571.3 605.1V630.0M570.3 624.2h1M571.3 612.0h1M572.3 581.1V635.0M571.3 612.0h1M572.3 602.7h1M573.2 583.5V609.3M572.2 602.7h1M573.2 594.4h1M574.1 578.5V631.3M573.1 594.4h1M574.1 586.1h1M575.1 576.7V592.8M574.1 586.1h1M575.1 580.0h1M576.0 574.0V608.1M575.0 580.0h1M576.0 575.7h1M577.0 570.4V578.9M576.0 575.7h1M577.0 571.5h1M577.9 560.2V572.2M576.9 571.5h1M577.9 568.6h1M578.8 555.3V577.0M577.8 568.6h1M578.8 561.4h1M579.8 552.7V571.8M578.8 561.4h1M579.8 554.7h1M580.7 550.3V558.7M579.7 554.7h1M580.7 551.3h1M581.7 546.7V563.4M580.7 551.3h1M581.7 547.0h1M582.6 546.7V553.2M581.6 547.0h1M582.6 550.3h1M583.5 541.0V555.2M582.5 550.3h1M583.5 545.8h1M584.5 543.0V550.3M583.5 545.8h1M584.5 545.4h1M585.4 543.0V549.2M584.4 545.4h1M585.4 543.7h1M586.4 537.1V545.4M585.4 543.7h1M586.4 540.3h1M587.3 530.6V541.7M586.3 540.3h1M587.3 537.3h1M588.2 536.0V542.4M587.2 537.3h1M588.2 539.6h1M589.2 535.9V546.8M588.2 539.6h1M589.2 544.0h1M590.1 535.7V549.4M589.1 544.0h1M590.1 548.5h1M591.1 525.4V551.9M590.1 548.5h1M591.1 540.7h1M592.0 522.2V555.0M591.0 540.7h1M592.0 530.9h1M592.9 528.4V531.2M591.9 530.9h1M592.9 531.0h1M593.9 525.1V536.9M592.9 531.0h1M593.9 531.4h1M594.8 530.5V535.3M593.8 531.4h1M594.8 531.9h1M595.8 528.3V546.6M594.8 531.9h1M595.8 530.0h1M596.7 525.4V542.3M595.7 530.0h1M596.7 534.0h1M597.6 533.5V541.8M596.6 534.0h1M597.6 540.3h1M598.6 539.6V556.0M597.6 540.3h1M598.6 545.0h1M599.5 535.1V554.6M598.5 545.0h1M599.5 539.8h1M600.5 528.9V542.5M599.5 539.8h1M600.5 537.7h1M601.4 528.0V538.9M600.4 537.7h1M601.4 529.7h1M602.3 522.8V530.7M601.3 529.7h1M602.3 527.0h1M603.3 521.1V528.5M602.3 527.0h1M603.3 523.2h1M604.2 520.3V525.1M603.2 523.2h1M604.2 522.1h1M605.2 521.6V524.5M604.2 522.1h1M605.2 522.0h1M606.1 516.0V523.6M605.1 522.0h1M606.1 518.5h1M607.0 512.8V519.8M606.0 518.5h1M607.0 514.4h1M608.0 509.1V515.4M607.0 514.4h1M608.0 511.3h1M608.9 507.2V513.0M607.9 511.3h1M608.9 507.4h1M609.9 491.8V507.6M608.9 507.4h1M609.9 501.9h1M610.8 499.7V504.7M609.8 501.9h1M610.8 501.2h1M611.7 499.7V504.5M610.7 501.2h1M611.7 503.2h1M612.7 501.9V508.3M611.7 503.2h1M612.7 506.1h1M613.6 503.7V513.4M612.6 506.1h1M613.6 509.1h1M614.6 508.1V515.2M613.6 509.1h1M614.6 514.1h1M615.5 506.4V515.9M614.5 514.1h1M615.5 511.3h1M616.4 507.5V514.8M615.4 511.3h1M616.4 508.7h1M617.4 502.7V521.0M616.4 508.7h1M617.4 503.1h1M618.3 501.8V513.3M617.3 503.1h1M618.3 508.1h1M619.3 503.3V514.0M618.3 508.1h1M619.3 510.8h1M620.2 510.4V521.0M619.2 510.8h1M620.2 517.9h1M621.1 509.6V525.8M620.1 517.9h1M621.1 512.2h1M622.1 497.0V516.5M621.1 512.2h1M622.1 505.2h1M623.0 495.8V505.4M622.0 505.2h1M623.0 498.6h1M624.0 488.8V510.8M623.0 498.6h1M624.0 492.3h1M624.9 482.0V492.8M623.9 492.3h1M624.9 489.4h1M625.8 485.2V491.1M624.8 489.4h1M625.8 489.5h1M626.8 485.1V491.4M625.8 489.5h1M626.8 487.1h1M627.7 483.0V488.5M626.7 487.1h1M627.7 488.1h1M628.7 487.5V493.7M627.7 488.1h1M628.7 488.3h1M629.6 485.5V488.8M628.6 488.3h1M629.6 486.0h1M630.5 482.3V495.2M629.5 486.0h1M630.5 483.6h1M631.5 479.2V485.3M630.5 483.6h1M631.5 480.1h1M632.4 477.4V485.6M631.4 480.1h1M632.4 479.9h1M633.4 477.8V488.1M632.4 479.9h1M633.4 487.8h1M634.3 485.9V495.6M633.3 487.8h1M634.3 494.0h1M635.2 491.8V498.8M634.2 494.0h1M635.2 495.2h1M636.2 493.6V500.4M635.2 495.2h1M636.2 495.8h1M637.1 495.1V506.1M636.1 495.8h1M637.1 503.3h1M638.1 502.5V510.4M637.1 503.3h1M638.1 509.0h1M639.0 506.1V515.4M638.0 509.0h1M639.0 513.0h1M639.9 511.4V520.0M638.9 513.0h1M639.9 517.3h1M640.9 512.2V519.4M639.9 517.3h1M640.9 514.9h1M641.8 498.8V516.3M640.8 514.9h1M641.8 510.5h1M642.8 506.8V514.5M641.8 510.5h1M642.8 507.8h1M643.7 501.9V508.9M642.7 507.8h1M643.7 504.6h1M644.6 503.0V509.9M643.6 504.6h1M644.6 506.0h1M645.6 504.1V513.7M644.6 506.0h1M645.6 510.6h1M646.5 502.5V512.6M645.5 510.6h1M646.5 509.7h1M647.5 507.6V514.4M646.5 509.7h1M647.5 513.4h1M648.4 512.1V524.7M647.4 513.4h1M648.4 519.0h1M649.3 518.7V526.6M648.3 519.0h1M649.3 522.9h1M650.3 517.2V523.6M649.3 522.9h1M650.3 518.6h1M651.2 506.7V523.0M650.2 518.6h1M651.2 515.7h1M652.2 509.2V516.6M651.2 515.7h1M652.2 513.8h1M653.1 509.6V516.3M652.1 513.8h1M653.1 510.5h1M654.0 495.2V513.2M653.0 510.5h1M654.0 499.6h1M655.0 481.9V507.3M654.0 499.6h1M655.0 488.9h1M655.9 475.0V492.8M654.9 488.9h1M655.9 484.0h1M656.9 477.2V489.9M655.9 484.0h1M656.9 478.4h1M657.8 473.3V478.6M656.8 478.4h1M657.8 474.4h1M658.7 466.6V475.4M657.7 474.4h1M658.7 469.1h1M659.7 467.4V471.2M658.7 469.1h1M659.7 468.0h1M660.6 467.3V469.0M659.6 468.0h1M660.6 468.3h1M661.6 462.8V468.8M660.6 468.3h1M661.6 466.3h1M662.5 463.0V469.9M661.5 466.3h1M662.5 466.7h1M663.4 460.5V468.1M662.4 466.7h1M663.4 462.8h1M664.4 458.2V466.9M663.4 462.8h1M664.4 460.1h1M665.3 459.0V464.6M664.3 460.1h1M665.3 459.3h1M666.3 456.1V461.9M665.3 459.3h1M666.3 457.0h1M667.2 455.6V459.2M666.2 457.0h1M667.2 456.5h1M668.1 451.8V458.6M667.1 456.5h1M668.1 457.3h1M669.1 453.4V462.2M668.1 457.3h1M669.1 454.0h1M670.0 451.9V458.7M669.0 454.0h1M670.0 452.3h1M671.0 447.1V452.7M670.0 452.3h1M671.0 451.0h1M671.9 448.4V451.4M670.9 451.0h1M671.9 449.9h1M672.8 446.5V455.3M671.8 449.9h1M672.8 455.0h1M673.8 453.1V458.1M672.8 455.0h1M673.8 457.8h1M674.7 451.2V465.0M673.7 457.8h1M674.7 463.0h1M675.7 459.7V468.3M674.7 463.0h1M675.7 465.7h1M676.6 462.8V466.2M675.6 465.7h1M676.6 464.2h1M677.5 457.9V465.1M676.5 464.2h1M677.5 459.3h1M678.5 451.5V460.4M677.5 459.3h1M678.5 453.6h1M679.4 448.1V453.9M678.4 453.6h1M679.4 449.4h1M680.4 437.1V450.9M679.4 449.4h1M680.4 442.9h1M681.3 439.9V443.7M680.3 442.9h1M681.3 440.3h1M682.2 435.7V448.4M681.2 440.3h1M682.2 442.3h1M683.2 437.4V452.4M682.2 442.3h1M683.2 448.1h1M684.1 447.9V454.2M683.1 448.1h1M684.1 453.0h1M685.1 449.9V455.0M684.1 453.0h1M685.1 451.6h1M686.0 447.1V453.4M685.0 451.6h1M686.0 453.1h1M686.9 451.7V460.4M685.9 453.1h1M686.9 455.1h1M687.9 450.9V460.3M686.9 455.1h1M687.9 454.3h1M688.8 451.7V454.5M687.8 454.3h1M688.8 452.0h1M689.8 449.2V453.5M688.8 452.0h1M689.8 450.5h1M690.7 442.7V453.3M689.7 450.5h1M690.7 445.1h1M691.6 440.8V451.1M690.6 445.1h1M691.6 443.5h1M692.6 437.9V444.6M691.6 443.5h1M692.6 440.9h1M693.5 437.8V443.4M692.5 440.9h1M693.5 438.0h1M694.5 436.9V439.6M693.5 438.0h1M694.5 437.5h1M695.4 431.6V438.7M694.4 437.5h1M695.4 433.6h1M696.3 431.0V437.2M695.3 433.6h1M696.3 431.6h1M697.3 429.5V432.8M696.3 431.6h1M697.3 430.2h1M698.2 426.3V431.0M697.2 430.2h1M698.2 428.9h1M699.2 426.7V430.3M698.2 428.9h1M699.2 427.4h1M700.1 426.7V435.6M699.1 427.4h1M700.1 432.1h1M701.0 431.3V434.8M700.0 432.1h1M701.0 434.0h1M702.0 431.8V438.8M701.0 434.0h1M702.0 436.8h1M702.9 436.5V441.4M701.9 436.8h1M702.9 438.9h1M703.9 438.1V439.5M702.9 438.9h1M703.9 438.7h1M704.8 436.4V439.6M703.8 438.7h1M704.8 437.3h1M705.7 433.3V451.9M704.7 437.3h1M705.7 444.3h1M706.7 441.7V448.4M705.7 444.3h1M706.7 445.8h1M707.6 442.4V448.5M706.6 445.8h1M707.6 443.3h1M708.6 437.2V445.6M707.6 443.3h1M708.6 438.8h1M709.5 435.4V441.7M708.5 438.8h1M709.5 436.6h1M710.4 434.0V436.9M709.4 436.6h1M710.4 435.0h1M711.4 426.7V435.4M710.4 435.0h1M711.4 430.8h1M712.3 422.6V435.2M711.3 430.8h1M712.3 427.8h1M713.3 427.0V432.7M712.3 427.8h1M713.3 428.3h1M714.2 421.4V428.9M713.2 428.3h1M714.2 426.2h1M715.1 424.0V428.2M714.1 426.2h1M715.1 424.5h1M716.1 417.7V425.6M715.1 424.5h1M716.1 422.6h1M717.0 415.9V423.0M716.0 422.6h1M717.0 416.8h1M718.0 414.0V417.4M717.0 416.8h1M718.0 414.3h1M718.9 413.5V419.5M717.9 414.3h1M718.9 419.3h1M719.8 418.0V420.6M718.8 419.3h1M719.8 418.4h1M720.8 417.0V421.2M719.8 418.4h1M720.8 419.7h1M721.7 414.9V420.4M720.7 419.7h1M721.7 420.0h1M722.7 419.5V420.7M721.7 420.0h1M722.7 420.4h1M723.6 416.1V424.5M722.6 420.4h1M723.6 423.2h1M724.5 422.7V430.6M723.5 423.2h1M724.5 429.8h1M725.5 427.1V437.1M724.5 429.8h1M725.5 431.3h1M726.4 426.4V432.9M725.4 431.3h1M726.4 427.6h1M727.4 424.2V432.3M726.4 427.6h1M727.4 424.8h1M728.3 412.6V425.0M727.3 424.8h1M728.3 418.8h1M729.2 415.0V419.3M728.2 418.8h1M729.2 415.2h1M730.2 409.8V417.5M729.2 415.2h1M730.2 410.3h1M731.1 407.3V413.1M730.1 410.3h1M731.1 407.9h1M732.1 404.0V409.8M731.1 407.9h1M732.1 405.3h1M733.0 400.9V406.1M732.0 405.3h1M733.0 401.1h1M733.9 400.4V401.8M732.9 401.1h1M733.9 400.6h1M734.9 397.5V402.4M733.9 400.6h1M734.9 398.7h1M735.8 396.5V399.6M734.8 398.7h1M735.8 397.3h1M736.8 396.3V400.2M735.8 397.3h1M736.8 398.8h1M737.7 397.6V400.2M736.7 398.8h1M737.7 399.4h1"/>
<path stroke="#2a70e4" d="M738.6 394.8V406.9M737.6 399.4h1M738.6 403.6h1M739.6 396.2V404.1M738.6 403.6h1M739.6 399.7h1M740.5 391.5V400.1M739.5 399.7h1M740.5 392.1h1M741.5 390.4V395.0M740.5 392.1h1M741.5 394.5h1M742.4 391.0V397.1M741.4 394.5h1M742.4 396.5h1M743.3 396.2V400.1M742.3 396.5h1M743.3 398.6h1M744.3 397.6V403.1M743.3 398.6h1M744.3 400.0h1M745.2 398.9V400.7M744.2 400.0h1M745.2 399.9h1M746.2 398.2V401.1M745.2 399.9h1M746.2 398.7h1M747.1 394.2V399.6M746.1 398.7h1M747.1 395.6h1M748.0 394.6V400.6M747.0 395.6h1M748.0 399.2h1M749.0 395.1V403.4M748.0 399.2h1M749.0 402.8h1M749.9 400.8V405.6M748.9 402.8h1M749.9 405.1h1M750.9 401.0V407.1M749.9 405.1h1M750.9 403.2h1M751.8 399.6V404.0M750.8 403.2h1M751.8 400.6h1M752.7 399.5V404.2M751.7 400.6h1M752.7 400.7h1M753.7 395.4V403.0M752.7 400.7h1M753.7 396.0h1M754.6 395.0V398.5M753.6 396.0h1M754.6 397.8h1M755.6 395.6V402.6M754.6 397.8h1M755.6 400.5h1M756.5 396.0V406.7M755.5 400.5h1M756.5 403.7h1M757.4 399.5V405.7M756.4 403.7h1M757.4 401.1h1M758.4 395.5V401.5M757.4 401.1h1M758.4 397.5h1M759.3 396.5V400.6M758.3 397.5h1M759.3 397.0h1M760.3 394.5V398.0M759.3 397.0h1M760.3 394.7h1M761.2 391.1V397.6M760.2 394.7h1M761.2 392.4h1M762.1 389.1V394.6M761.1 392.4h1M762.1 393.2h1M763.1 392.5V398.0M762.1 393.2h1M763.1 392.9h1M764.0 390.3V393.8M763.0 392.9h1M764.0 393.2h1M765.0 391.4V398.8M764.0 393.2h1M765.0 393.9h1M765.9 392.6V395.9M764.9 393.9h1M765.9 395.5h1M766.8 392.6V397.4M765.8 395.5h1M766.8 395.1h1M767.8 391.0V397.6M766.8 395.1h1M767.8 393.0h1M768.7 387.6V393.9M767.7 393.0h1M768.7 389.0h1M769.7 386.7V389.7M768.7 389.0h1M769.7 387.5h1M770.6 385.5V388.5M769.6 387.5h1M770.6 388.0h1M771.5 385.9V389.9M770.5 388.0h1M771.5 387.3h1M772.5 385.1V387.8M771.5 387.3h1M772.5 385.8h1M773.4 383.1V387.2M772.4 385.8h1M773.4 383.5h1M774.4 381.3V386.7M773.4 383.5h1M774.4 382.0h1M775.3 379.0V385.1M774.3 382.0h1M775.3 384.6h1M776.2 380.6V394.2M775.2 384.6h1M776.2 392.3h1M777.2 391.6V397.2M776.2 392.3h1M777.2 396.7h1M778.1 396.4V402.6M777.1 396.7h1M778.1 400.1h1M779.1 399.0V406.0M778.1 400.1h1M779.1 405.1h1M780.0 404.6V411.2M779.0 405.1h1M780.0 410.0h1M780.9 409.5V411.7M779.9 410.0h1M780.9 411.0h1M781.9 410.3V414.3M780.9 411.0h1M781.9 413.2h1M782.8 409.7V416.2M781.8 413.2h1M782.8 414.9h1M783.8 409.2V415.8M782.8 414.9h1M783.8 409.7h1M784.7 402.3V410.1M783.7 409.7h1M784.7 406.1h1M785.6 404.3V410.3M784.6 406.1h1M785.6 409.2h1M786.6 407.8V419.8M785.6 409.2h1M786.6 416.4h1M787.5 415.3V430.0M786.5 416.4h1M787.5 423.1h1M788.5 419.6V423.5M787.5 423.1h1M788.5 420.7h1M789.4 418.1V421.8M788.4 420.7h1M789.4 418.5h1M790.3 415.2V420.1M789.3 418.5h1M790.3 415.7h1M791.3 411.6V417.1M790.3 415.7h1M791.3 413.4h1M792.2 408.6V414.3M791.2 413.4h1M792.2 410.2h1M793.2 406.0V413.9M792.2 410.2h1M793.2 407.0h1M794.1 401.7V407.2M793.1 407.0h1M794.1 404.4h1M795.0 400.6V405.2M794.0 404.4h1M795.0 402.1h1M796.0 398.6V403.0M795.0 402.1h1M796.0 399.0h1M796.9 397.9V400.4M795.9 399.0h1M796.9 398.7h1M797.9 397.2V401.5M796.9 398.7h1M797.9 400.2h1M798.8 399.8V404.8M797.8 400.2h1M798.8 404.5h1M799.7 403.6V406.8M798.7 404.5h1M799.7 406.6h1M800.7 404.1V406.9M799.7 406.6h1M800.7 405.0h1M801.6 398.7V407.4M800.6 405.0h1M801.6 402.3h1M802.6 397.0V407.2M801.6 402.3h1M802.6 397.6h1M803.5 395.2V398.3M802.5 397.6h1M803.5 395.5h1M804.4 392.5V396.3M803.4 395.5h1M804.4 393.5h1M805.4 392.5V396.2M804.4 393.5h1M805.4 393.3h1M806.3 390.1V394.1M805.3 393.3h1M806.3 391.7h1M807.3 391.0V393.7M806.3 391.7h1M807.3 392.9h1M808.2 389.0V393.7M807.2 392.9h1M808.2 390.3h1M809.1 389.3V392.2M808.1 390.3h1M809.1 390.0h1M810.1 385.4V390.8M809.1 390.0h1M810.1 388.0h1M811.0 386.2V390.8M810.0 388.0h1M811.0 386.9h1M812.0 386.2V388.8M811.0 386.9h1M812.0 387.3h1M812.9 382.7V387.9M811.9 387.3h1M812.9 384.4h1M813.8 380.4V385.9M812.8 384.4h1M813.8 381.8h1M814.8 376.3V383.2M813.8 381.8h1M814.8 377.2h1M815.7 375.8V381.8M814.7 377.2h1M815.7 376.8h1M816.7 376.2V379.3M815.7 376.8h1M816.7 377.6h1M817.6 374.8V378.2M816.6 377.6h1M817.6 376.6h1M818.5 374.5V377.1M817.5 376.6h1M818.5 375.8h1M819.5 371.5V378.7M818.5 375.8h1M819.5 372.0h1M820.4 371.7V376.1M819.4 372.0h1M820.4 374.9h1M821.4 374.2V376.5M820.4 374.9h1M821.4 375.3h1M822.3 370.8V377.1M821.3 375.3h1M822.3 372.4h1M823.2 371.9V374.2M822.2 372.4h1M823.2 372.6h1M824.2 370.0V373.7M823.2 372.6h1M824.2 371.1h1M825.1 369.2V373.0M824.1 371.1h1M825.1 372.3h1M826.1 369.6V375.9M825.1 372.3h1M826.1 371.3h1M827.0 369.0V372.3M826.0 371.3h1M827.0 370.1h1M827.9 369.6V371.9M826.9 370.1h1M827.9 370.6h1M828.9 369.7V372.6M827.9 370.6h1M828.9 370.3h1M829.8 366.4V370.7M828.8 370.3h1M829.8 367.2h1M830.8 363.8V372.7M829.8 367.2h1M830.8 364.9h1M831.7 362.1V368.6M830.7 364.9h1M831.7 363.3h1M832.6 361.2V363.9M831.6 363.3h1M832.6 361.4h1M833.6 359.9V364.6M832.6 361.4h1M833.6 363.1h1M834.5 362.1V363.8M833.5 363.1h1M834.5 362.7h1M835.5 359.5V362.9M834.5 362.7h1M835.5 360.6h1M836.4 358.4V361.2M835.4 360.6h1M836.4 358.8h1M837.3 356.3V363.2M836.3 358.8h1M837.3 359.9h1M838.3 358.7V360.2M837.3 359.9h1M838.3 359.0h1M839.2 357.0V363.6M838.2 359.0h1M839.2 361.8h1M840.2 360.3V363.9M839.2 361.8h1M840.2 363.6h1M841.1 361.5V369.5M840.1 363.6h1M841.1 367.1h1M842.0 365.5V369.8M841.0 367.1h1M842.0 369.1h1M843.0 366.5V373.1M842.0 369.1h1M843.0 372.6h1M843.9 371.1V380.7M842.9 372.6h1M843.9 376.7h1M844.9 374.6V385.8M843.9 376.7h1M844.9 383.5h1M845.8 382.7V425.4M844.8 383.5h1M845.8 387.2h1M846.7 383.1V394.9M845.7 387.2h1M846.7 383.7h1M847.7 378.2V387.9M846.7 383.7h1M847.7 379.6h1M848.6 372.8V382.4M847.6 379.6h1M848.6 378.5h1M849.6 373.5V379.3M848.6 378.5h1M849.6 376.4h1M850.5 371.4V386.5M849.5 376.4h1M850.5 381.6h1M851.4 380.9V388.5M850.4 381.6h1M851.4 385.4h1M852.4 385.1V393.6M851.4 385.4h1M852.4 390.8h1M853.3 388.8V399.5M852.3 390.8h1M853.3 397.3h1M854.3 396.9V409.6M853.3 397.3h1M854.3 409.3h1M855.2 407.0V422.1M854.2 409.3h1M855.2 417.4h1M856.1 417.1V425.3M855.1 417.4h1M856.1 424.8h1M857.1 424.2V430.2M856.1 424.8h1M857.1 429.3h1M858.0 426.6V433.7M857.0 429.3h1M858.0 430.9h1M859.0 416.8V432.9M858.0 430.9h1M859.0 417.8h1M859.9 406.8V419.0M858.9 417.8h1M859.9 408.0h1M860.8 405.7V408.2M859.8 408.0h1M860.8 406.6h1M861.8 405.6V409.2M860.8 406.6h1M861.8 406.9h1M862.7 401.1V408.6M861.7 406.9h1M862.7 405.5h1M863.7 403.7V406.9M862.7 405.5h1M863.7 405.9h1M864.6 403.5V418.1M863.6 405.9h1M864.6 415.5h1M865.5 412.6V422.3M864.5 415.5h1M865.5 420.6h1M866.5 418.8V427.8M865.5 420.6h1M866.5 426.1h1M867.4 420.1V428.0M866.4 426.1h1M867.4 422.0h1M868.4 416.6V422.3M867.4 422.0h1M868.4 417.3h1M869.3 407.1V417.6M868.3 417.3h1M869.3 408.1h1M870.2 403.6V408.8M869.2 408.1h1M870.2 404.5h1M871.2 395.4V408.8M870.2 404.5h1M871.2 400.1h1M872.1 394.3V401.7M871.1 400.1h1M872.1 397.6h1M873.1 392.4V399.6M872.1 397.6h1M873.1 393.8h1M874.0 388.0V400.7M873.0 393.8h1M874.0 396.5h1M874.9 389.8V397.3M873.9 396.5h1M874.9 390.1h1M875.9 388.3V399.0M874.9 390.1h1M875.9 398.0h1M876.8 393.3V404.0M875.8 398.0h1M876.8 402.2h1M877.8 390.7V407.9M876.8 402.2h1M877.8 407.6h1M878.7 407.1V413.4M877.7 407.6h1M878.7 412.1h1M879.6 410.1V422.9M878.6 412.1h1M879.6 416.4h1M880.6 415.0V424.3M879.6 416.4h1M880.6 420.9h1M881.5 420.3V425.9M880.5 420.9h1M881.5 424.3h1M882.5 418.9V431.7M881.5 424.3h1M882.5 429.0h1M883.4 427.0V435.2M882.4 429.0h1M883.4 434.1h1M884.3 427.1V436.5M883.3 434.1h1M884.3 429.3h1M885.3 420.4V430.0M884.3 429.3h1M885.3 423.0h1M886.2 415.5V426.4M885.2 423.0h1M886.2 415.8h1M887.2 407.5V416.3M886.2 415.8h1M887.2 409.5h1M888.1 407.1V410.9M887.1 409.5h1M888.1 410.0h1M889.0 402.8V410.3M888.0 410.0h1M889.0 406.2h1M890.0 399.4V410.0M889.0 406.2h1M890.0 399.7h1M890.9 399.4V405.6M889.9 399.7h1M890.9 405.0h1M891.9 403.3V417.4M890.9 405.0h1M891.9 410.0h1M892.8 405.9V414.0M891.8 410.0h1M892.8 413.4h1M893.7 411.8V418.7M892.7 413.4h1M893.7 417.2h1M894.7 410.2V418.1M893.7 417.2h1M894.7 411.6h1M895.6 402.8V412.2M894.6 411.6h1M895.6 405.4h1M896.6 398.3V410.4M895.6 405.4h1M896.6 399.5h1M897.5 392.8V400.1M896.5 399.5h1M897.5 393.4h1M898.4 393.1V394.5M897.4 393.4h1M898.4 394.0h1M899.4 390.2V394.7M898.4 394.0h1M899.4 390.8h1M900.3 385.0V392.6M899.3 390.8h1M900.3 390.6h1M901.3 385.1V391.5M900.3 390.6h1M901.3 386.7h1M902.2 385.0V387.9M901.2 386.7h1M902.2 385.3h1M903.1 381.8V386.5M902.1 385.3h1M903.1 382.7h1M904.1 376.9V384.8M903.1 382.7h1M904.1 384.0h1M905.0 383.2V384.9M904.0 384.0h1M905.0 384.5h1M906.0 381.5V385.6M905.0 384.5h1M906.0 382.0h1M906.9 380.3V384.2M905.9 382.0h1M906.9 381.4h1M907.8 380.9V384.8M906.8 381.4h1M907.8 382.8h1M908.8 382.5V392.9M907.8 382.8h1M908.8 389.9h1M909.7 388.9V400.9M908.7 389.9h1M909.7 398.1h1M910.7 396.6V405.4M909.7 398.1h1M910.7 403.3h1M911.6 400.8V405.9M910.6 403.3h1M911.6 401.1h1M912.5 395.9V401.5M911.5 401.1h1M912.5 396.3h1M913.5 392.5V397.1M912.5 396.3h1M913.5 395.6h1M914.4 395.3V400.4M913.4 395.6h1M914.4 400.1h1M915.4 396.5V405.7M914.4 400.1h1M915.4 405.4h1M916.3 405.0V408.1M915.3 405.4h1M916.3 407.4h1M917.2 406.9V413.7M916.2 407.4h1M917.2 412.1h1M918.2 411.7V417.4M917.2 412.1h1M918.2 416.9h1M919.1 416.5V419.8M918.1 416.9h1M919.1 418.4h1M920.1 413.9V419.3M919.1 418.4h1M920.1 415.0h1M921.0 410.0V415.5M920.0 415.0h1M921.0 411.5h1M921.9 407.9V411.7M920.9 411.5h1M921.9 408.6h1M922.9 407.2V409.9M921.9 408.6h1M922.9 408.1h1M923.8 400.0V408.5M922.8 408.1h1M923.8 404.1h1M924.8 399.5V406.0M923.8 404.1h1M924.8 400.4h1M925.7 396.8V400.7M924.7 400.4h1M925.7 400.4h1M926.6 395.7V402.8M925.6 400.4h1M926.6 397.8h1M927.6 395.0V401.6M926.6 397.8h1M927.6 396.9h1M928.5 392.0V399.1M927.5 396.9h1M928.5 394.9h1M929.5 393.2V400.5M928.5 394.9h1M929.5 393.6h1M930.4 389.7V395.1M929.4 393.6h1M930.4 390.5h1M931.3 380.4V393.9M930.3 390.5h1M931.3 385.0h1M932.3 371.4V387.8M931.3 385.0h1M932.3 381.1h1M933.2 377.5V385.8M932.2 381.1h1M933.2 379.2h1M934.2 377.9V380.1M933.2 379.2h1M934.2 379.7h1M935.1 377.4V380.6M934.1 379.7h1M935.1 380.3h1M936.0 377.5V381.8M935.0 380.3h1M936.0 378.2h1M937.0 376.0V379.3M936.0 378.2h1M937.0 376.5h1M937.9 375.9V379.4M936.9 376.5h1M937.9 378.6h1M938.9 371.9V379.1M937.9 378.6h1M938.9 373.7h1M939.8 372.4V377.0M938.8 373.7h1M939.8 376.3h1M940.7 376.1V377.1M939.7 376.3h1M940.7 376.9h1M941.7 376.3V386.6M940.7 376.9h1M941.7 379.8h1M942.6 378.2V381.0M941.6 379.8h1M942.6 380.7h1M943.6 379.6V382.9M942.6 380.7h1M943.6 380.9h1M944.5 374.6V384.9M943.5 380.9h1M944.5 377.4h1M945.4 373.4V378.2M944.4 377.4h1M945.4 374.3h1M946.4 371.2V375.4M945.4 374.3h1M946.4 373.2h1M947.3 368.4V378.1M946.3 373.2h1M947.3 370.7h1M948.3 367.2V372.2M947.3 370.7h1M948.3 367.7h1M949.2 365.0V368.2M948.2 367.7h1M949.2 366.0h1M950.1 362.4V367.4M949.1 366.0h1M950.1 364.4h1M951.1 361.8V364.7M950.1 364.4h1M951.1 362.1h1M952.0 358.6V363.1M951.0 362.1h1M952.0 358.8h1M953.0 357.5V363.9M952.0 358.8h1M953.0 361.0h1M953.9 358.3V361.4M952.9 361.0h1M953.9 359.2h1M954.8 358.6V359.8M953.8 359.2h1M954.8 359.6h1M955.8 359.1V359.9M954.8 359.6h1M955.8 359.6h1M956.7 357.7V362.2M955.7 359.6h1M956.7 359.1h1M957.7 358.3V360.6M956.7 359.1h1M957.7 360.3h1M958.6 357.0V361.6M957.6 360.3h1M958.6 360.2h1M959.5 358.1V363.2M958.5 360.2h1M959.5 359.5h1M960.5 359.0V361.8M959.5 359.5h1M960.5 360.1h1M961.4 358.2V360.9M960.4 360.1h1M961.4 359.4h1M962.4 358.9V363.4M961.4 359.4h1M962.4 362.3h1M963.3 358.2V363.2M962.3 362.3h1M963.3 359.1h1M964.2 355.0V360.5M963.2 359.1h1M964.2 356.2h1M965.2 347.6V358.0M964.2 356.2h1M965.2 352.5h1M966.1 348.7V354.4M965.1 352.5h1M966.1 349.6h1M967.1 348.9V355.0M966.1 349.6h1M967.1 352.3h1M968.0 351.4V353.0M967.0 352.3h1M968.0 352.3h1M968.9 344.1V354.3M967.9 352.3h1M968.9 354.1h1M969.9 352.8V355.7M968.9 354.1h1M969.9 355.3h1M970.8 354.9V358.7M969.8 355.3h1M970.8 357.9h1M971.8 357.1V361.4M970.8 357.9h1M971.8 360.9h1M972.7 360.2V367.2M971.7 360.9h1M972.7 364.8h1M973.6 362.4V369.8M972.6 364.8h1M973.6 368.9h1M974.6 368.6V370.1M973.6 368.9h1M974.6 369.8h1M975.5 369.5V372.9M974.5 369.8h1M975.5 371.6h1M976.5 369.8V372.4M975.5 371.6h1M976.5 370.3h1M977.4 367.3V371.1M976.4 370.3h1M977.4 370.4h1M978.3 370.1V372.4M977.3 370.4h1M978.3 370.7h1M979.3 369.4V372.2M978.3 370.7h1M979.3 371.4h1M980.2 368.9V373.6M979.2 371.4h1M980.2 371.8h1M981.2 368.4V372.7M980.2 371.8h1M981.2 369.5h1M982.1 359.9V372.2M981.1 369.5h1M982.1 360.4h1M983.0 353.3V363.2M982.0 360.4h1M983.0 353.6h1M984.0 350.4V355.4M983.0 353.6h1M984.0 354.2h1M984.9 349.7V356.0M983.9 354.2h1M984.9 352.2h1M985.9 352.0V353.9M984.9 352.2h1M985.9 353.0h1M986.8 349.4V355.3M985.8 353.0h1M986.8 352.6h1M987.7 351.8V353.6M986.7 352.6h1M987.7 352.3h1M988.7 349.1V354.0M987.7 352.3h1M988.7 350.6h1M989.6 349.6V351.4M988.6 350.6h1M989.6 350.2h1M990.6 347.8V350.6M989.6 350.2h1M990.6 348.6h1M991.5 346.1V349.0M990.5 348.6h1M991.5 346.4h1M992.4 345.2V347.7M991.4 346.4h1M992.4 347.0h1M993.4 344.9V347.4M992.4 347.0h1M993.4 345.6h1M994.3 345.3V348.5M993.3 345.6h1M994.3 347.1h1M995.3 345.0V348.2M994.3 347.1h1M995.3 346.1h1M996.2 343.5V349.9M995.2 346.1h1M996.2 345.8h1M997.1 343.0V347.0M996.1 345.8h1M997.1 343.8h1M998.1 342.4V345.0M997.1 343.8h1M998.1 343.0h1M999.0 342.4V344.6M998.0 343.0h1M999.0 343.9h1M1000.0 342.6V346.7M999.0 343.9h1M1000.0 344.6h1M1000.9 341.5V345.9M999.9 344.6h1M1000.9 342.2h1M1001.8 341.3V344.0M1000.8 342.2h1M1001.8 341.6h1M1002.8 337.7V342.2M1001.8 341.6h1M1002.8 340.4h1M1003.7 337.1V341.6M1002.7 340.4h1M1003.7 337.5h1M1004.7 335.0V339.1M1003.7 337.5h1M1004.7 338.8h1M1005.6 338.3V342.1M1004.6 338.8h1M1005.6 339.8h1M1006.5 339.2V343.6M1005.5 339.8h1M1006.5 342.8h1M1007.5 340.2V343.3M1006.5 342.8h1M1007.5 341.0h1M1008.4 338.2V341.2M1007.4 341.0h1M1008.4 339.8h1M1009.4 335.8V340.2M1008.4 339.8h1M1009.4 336.4h1M1010.3 333.2V336.7M1009.3 336.4h1M1010.3 333.5h1M1011.2 332.8V334.3M1010.2 333.5h1M1011.2 333.0h1M1012.2 329.5V333.6M1011.2 333.0h1M1012.2 330.6h1M1013.1 330.0V335.0M1012.1 330.6h1M1013.1 331.2h1M1014.1 329.5V334.0M1013.1 331.2h1M1014.1 330.2h1M1015.0 329.5V332.1M1014.0 330.2h1M1015.0 329.8h1M1015.9 326.8V330.8M1014.9 329.8h1M1015.9 327.1h1M1016.9 325.7V327.5M1015.9 327.1h1M1016.9 326.5h1M1017.8 320.5V327.5M1016.8 326.5h1M1017.8 325.5h1M1018.8 323.9V332.0M1017.8 325.5h1M1018.8 330.7h1M1019.7 329.9V333.1M1018.7 330.7h1M1019.7 331.4h1M1020.6 327.6V332.1M1019.6 331.4h1M1020.6 328.5h1M1021.6 324.5V330.0M1020.6 328.5h1M1021.6 325.5h1M1022.5 320.8V327.4M1021.5 325.5h1M1022.5 322.6h1M1023.5 318.8V323.0M1022.5 322.6h1M1023.5 319.1h1M1024.4 314.3V319.6M1023.4 319.1h1M1024.4 317.7h1M1025.3 314.8V318.6M1024.3 317.7h1M1025.3 315.5h1M1026.3 312.4V316.1M1025.3 315.5h1M1026.3 314.1h1M1027.2 311.4V316.0M1026.2 314.1h1M1027.2 313.5h1M1028.2 313.2V316.9M1027.2 313.5h1M1028.2 314.5h1M1029.1 313.3V315.0M1028.1 314.5h1M1029.1 313.5h1M1030.0 311.5V314.3M1029.0 313.5h1M1030.0 312.8h1M1031.0 309.6V313.3M1030.0 312.8h1M1031.0 310.6h1M1031.9 308.3V310.9M1030.9 310.6h1M1031.9 309.6h1M1032.9 309.2V310.1M1031.9 309.6h1M1032.9 309.7h1M1033.8 307.8V314.3M1032.8 309.7h1M1033.8 308.0h1M1034.7 305.9V308.7M1033.7 308.0h1M1034.7 308.0h1M1035.7 304.0V317.0M1034.7 308.0h1M1035.7 316.6h1M1036.6 315.0V326.9M1035.6 316.6h1M1036.6 325.0h1M1037.6 323.4V325.4M1036.6 325.0h1M1037.6 323.7h1M1038.5 321.1V326.2M1037.5 323.7h1M1038.5 321.5h1M1039.4 320.7V322.2M1038.4 321.5h1M1039.4 321.0h1M1040.4 318.1V322.3M1039.4 321.0h1M1040.4 318.6h1M1041.3 316.1V319.4M1040.3 318.6h1M1041.3 316.9h1M1042.3 313.2V317.6M1041.3 316.9h1M1042.3 314.0h1M1043.2 310.6V314.6M1042.2 314.0h1M1043.2 312.0h1M1044.1 311.0V316.5M1043.1 312.0h1M1044.1 316.2h1M1045.1 315.5V320.5M1044.1 316.2h1M1045.1 320.3h1M1046.0 320.0V323.9M1045.0 320.3h1M1046.0 323.1h1M1047.0 322.9V328.2M1046.0 323.1h1M1047.0 327.6h1M1047.9 326.9V331.6M1046.9 327.6h1M1047.9 331.0h1M1048.8 329.0V337.4M1047.8 331.0h1M1048.8 336.7h1M1049.8 336.3V341.8M1048.8 336.7h1M1049.8 341.5h1M1050.7 338.4V343.0M1049.7 341.5h1M1050.7 338.9h1M1051.7 332.4V339.2M1050.7 338.9h1M1051.7 334.2h1M1052.6 328.4V335.8M1051.6 334.2h1M1052.6 330.1h1M1053.5 326.2V330.9M1052.5 330.1h1M1053.5 326.7h1M1054.5 320.7V327.2M1053.5 326.7h1M1054.5 322.5h1M1055.4 318.6V325.2M1054.4 322.5h1M1055.4 320.5h1M1056.4 312.0V320.9M1055.4 320.5h1M1056.4 315.0h1M1057.3 306.2V315.5M1056.3 315.0h1M1057.3 311.2h1M1058.2 309.1V312.0M1057.2 311.2h1M1058.2 309.7h1M1059.2 307.0V311.0M1058.2 309.7h1M1059.2 309.0h1M1060.1 306.8V310.4M1059.1 309.0h1M1060.1 309.5h1M1061.1 309.3V311.6M1060.1 309.5h1M1061.1 311.0h1M1062.0 306.2V312.2M1061.0 311.0h1M1062.0 309.3h1M1062.9 307.3V309.5M1061.9 309.3h1M1062.9 309.3h1M1063.9 307.4V309.7M1062.9 309.3h1M1063.9 308.0h1M1064.8 307.7V308.9M1063.8 308.0h1M1064.8 308.7h1M1065.8 307.5V309.7M1064.8 308.7h1M1065.8 308.2h1M1066.7 307.7V310.7M1065.7 308.2h1M1066.7 310.5h1M1067.6 309.6V312.0M1066.6 310.5h1M1067.6 311.3h1M1068.6 310.8V312.3M1067.6 311.3h1M1068.6 312.1h1M1069.5 311.7V314.0M1068.5 312.1h1M1069.5 313.8h1M1070.5 312.9V316.8M1069.5 313.8h1M1070.5 316.5h1M1071.4 315.8V319.1M1070.4 316.5h1M1071.4 318.1h1M1072.3 312.7V318.4M1071.3 318.1h1M1072.3 313.0h1M1073.3 308.3V313.6M1072.3 313.0h1M1073.3 309.2h1M1074.2 302.2V310.1M1073.2 309.2h1M1074.2 303.8h1M1075.2 299.2V305.3M1074.2 303.8h1M1075.2 301.6h1M1076.1 295.2V302.4M1075.1 301.6h1M1076.1 296.5h1M1077.0 291.9V298.5M1076.0 296.5h1M1077.0 292.8h1M1078.0 288.2V293.1M1077.0 292.8h1M1078.0 290.4h1M1078.9 287.5V293.0M1077.9 290.4h1M1078.9 288.6h1M1079.9 288.3V290.5M1078.9 288.6h1M1079.9 289.6h1M1080.8 289.2V291.7M1079.8 289.6h1M1080.8 290.7h1M1081.7 290.3V297.4M1080.7 290.7h1M1081.7 295.8h1M1082.7 295.2V298.5M1081.7 295.8h1M1082.7 296.2h1M1083.6 296.0V299.0M1082.6 296.2h1M1083.6 298.5h1M1084.6 295.2V299.1M1083.6 298.5h1M1084.6 296.9h1M1085.5 292.9V298.3M1084.5 296.9h1M1085.5 293.2h1M1086.4 289.6V294.2M1085.4 293.2h1M1086.4 292.6h1M1087.4 292.3V295.8M1086.4 292.6h1M1087.4 294.9h1M1088.3 292.5V300.2M1087.3 294.9h1M1088.3 297.2h1M1089.3 296.9V300.9M1088.3 297.2h1M1089.3 300.1h1M1090.2 299.8V302.6M1089.2 300.1h1M1090.2 302.0h1M1091.1 301.3V306.6M1090.1 302.0h1M1091.1 305.8h1M1092.1 302.7V308.8M1091.1 305.8h1M1092.1 305.9h1M1093.0 303.3V309.6M1092.0 305.9h1M1093.0 307.6h1M1094.0 306.8V309.8M1093.0 307.6h1M1094.0 308.5h1M1094.9 307.4V310.5M1093.9 308.5h1M1094.9 309.8h1M1095.8 308.3V310.1M1094.8 309.8h1M1095.8 308.5h1M1096.8 305.6V310.0M1095.8 308.5h1M1096.8 306.0h1M1097.7 303.5V306.5M1096.7 306.0h1M1097.7 304.0h1M1098.7 300.2V306.5M1097.7 304.0h1M1098.7 302.0h1M1099.6 298.3V309.3M1098.6 302.0h1M1099.6 305.5h1M1100.5 304.0V310.5M1099.5 305.5h1M1100.5 309.6h1M1101.5 308.7V313.5M1100.5 309.6h1M1101.5 313.0h1M1102.4 312.1V316.0M1101.4 313.0h1M1102.4 314.7h1M1103.4 314.4V321.8M1102.4 314.7h1M1103.4 318.0h1M1104.3 317.6V322.0M1103.3 318.0h1M1104.3 321.6h1M1105.2 318.7V327.5M1104.2 321.6h1M1105.2 325.5h1M1106.2 323.2V327.4M1105.2 325.5h1M1106.2 325.3h1M1107.1 323.8V328.1M1106.1 325.3h1M1107.1 326.1h1M1108.1 324.0V327.6M1107.1 326.1h1M1108.1 327.4h1M1109.0 326.5V332.6M1108.0 327.4h1M1109.0 330.1h1M1109.9 322.8V330.9M1108.9 330.1h1M1109.9 327.7h1M1110.9 322.5V328.3M1109.9 327.7h1M1110.9 323.9h1M1111.8 318.7V324.2M1110.8 323.9h1M1111.8 320.0h1M1112.8 317.6V320.8M1111.8 320.0h1M1112.8 319.4h1M1113.7 316.2V320.2M1112.7 319.4h1M1113.7 316.6h1M1114.6 316.3V322.4M1113.6 316.6h1M1114.6 322.2h1M1115.6 321.5V325.6M1114.6 322.2h1M1115.6 325.1h1M1116.5 319.9V326.5M1115.5 325.1h1M1116.5 320.7h1M1117.5 313.9V322.0M1116.5 320.7h1M1117.5 316.5h1M1118.4 312.2V318.1M1117.4 316.5h1M1118.4 313.3h1M1119.3 306.3V314.0M1118.3 313.3h1M1119.3 307.5h1M1120.3 300.6V307.7M1119.3 307.5h1M1120.3 301.9h1M1121.2 298.5V304.6M1120.2 301.9h1M1121.2 299.8h1M1122.2 294.8V303.3M1121.2 299.8h1M1122.2 296.7h1M1123.1 291.9V301.5M1122.1 296.7h1M1123.1 293.8h1M1124.0 292.7V297.5M1123.0 293.8h1M1124.0 296.3h1M1125.0 294.0V299.9M1124.0 296.3h1M1125.0 298.8h1M1125.9 296.8V302.1M1124.9 298.8h1M1125.9 301.0h1M1126.9 296.5V304.4M1125.9 301.0h1M1126.9 303.2h1M1127.8 298.3V307.3M1126.8 303.2h1M1127.8 306.5h1M1128.7 303.5V307.2M1127.7 306.5h1M1128.7 306.0h1M1129.7 304.0V311.1M1128.7 306.0h1M1129.7 304.6h1M1130.6 301.2V305.1M1129.6 304.6h1M1130.6 301.9h1M1131.6 298.4V302.6M1130.6 301.9h1M1131.6 299.0h1M1132.5 295.6V300.1M1131.5 299.0h1M1132.5 295.9h1M1133.4 292.1V299.9M1132.4 295.9h1M1133.4 292.8h1M1134.4 292.3V299.5M1133.4 292.8h1M1134.4 298.5h1M1135.3 297.9V305.2M1134.3 298.5h1M1135.3 302.7h1M1136.3 302.1V307.9M1135.3 302.7h1M1136.3 307.0h1M1137.2 306.0V310.5M1136.2 307.0h1M1137.2 310.2h1M1138.1 309.6V315.2M1137.1 310.2h1M1138.1 314.7h1M1139.1 313.2V321.0M1138.1 314.7h1M1139.1 319.9h1M1140.0 308.3V330.3M1139.0 319.9h1M1140.0 322.5h1M1141.0 314.5V347.5M1140.0 322.5h1M1141.0 337.0h1M1141.9 311.2V358.6M1140.9 337.0h1M1141.9 350.0h1M1142.8 344.3V368.2M1141.8 350.0h1M1142.8 362.7h1M1143.8 361.7V395.3M1142.8 362.7h1M1143.8 375.6h1M1144.7 353.1V382.9M1143.7 375.6h1M1144.7 379.9h1M1145.7 369.6V386.4M1144.7 379.9h1M1145.7 370.2h1M1146.6 359.5V375.6M1145.6 370.2h1M1146.6 361.8h1M1147.5 356.9V368.1M1146.5 361.8h1M1147.5 359.2h1M1148.5 346.7V373.8M1147.5 359.2h1M1148.5 359.2h1M1149.4 348.9V369.2M1148.4 359.2h1M1149.4 350.8h1M1150.4 350.1V351.8M1149.4 350.8h1M1150.4 351.0h1M1151.3 334.1V361.2M1150.3 351.0h1M1151.3 360.3h1M1152.2 360.1V376.9M1151.2 360.3h1M1152.2 367.8h1M1153.2 367.2V384.0M1152.2 367.8h1M1153.2 371.6h1M1154.1 364.1V372.0M1153.1 371.6h1M1154.1 367.7h1M1155.1 353.7V368.1M1154.1 367.7h1M1155.1 360.6h1M1156.0 345.8V361.5M1155.0 360.6h1M1156.0 352.4h1M1156.9 341.1V359.4M1155.9 352.4h1M1156.9 348.5h1M1157.9 338.6V351.7M1156.9 348.5h1M1157.9 343.7h1M1158.8 338.3V345.7M1157.8 343.7h1M1158.8 342.7h1M1159.8 335.9V351.2M1158.8 342.7h1M1159.8 338.5h1M1160.7 335.7V348.5M1159.7 338.5h1M1160.7 347.1h1M1161.6 339.1V378.0M1160.6 347.1h1M1161.6 355.2h1M1162.6 350.0V358.4M1161.6 355.2h1M1162.6 357.8h1M1163.5 352.3V367.0M1162.5 357.8h1M1163.5 361.4h1M1164.5 343.7V367.8M1163.5 361.4h1M1164.5 365.6h1M1165.4 364.5V370.1M1164.4 365.6h1M1165.4 369.7h1M1166.3 365.7V375.9M1165.3 369.7h1M1166.3 372.6h1M1167.3 361.7V382.7M1166.3 372.6h1M1167.3 364.1h1M1168.2 358.2V364.9M1167.2 364.1h1M1168.2 362.6h1M1169.2 347.1V363.1M1168.2 362.6h1M1169.2 359.0h1M1170.1 345.9V360.7M1169.1 359.0h1M1170.1 353.0h1M1171.0 341.8V354.7M1170.0 353.0h1M1171.0 349.3h1M1172.0 348.1V374.7M1171.0 349.3h1M1172.0 355.3h1M1172.9 350.7V369.1M1171.9 355.3h1M1172.9 368.6h1M1173.9 365.8V388.7M1172.9 368.6h1M1173.9 375.0h1M1174.8 374.6V393.9M1173.8 375.0h1M1174.8 381.7h1M1175.7 370.0V382.4M1174.7 381.7h1M1175.7 372.6h1M1176.7 358.8V378.2M1175.7 372.6h1M1176.7 362.2h1M1177.6 351.5V362.9M1176.6 362.2h1M1177.6 357.8h1M1178.6 354.3V374.2M1177.6 357.8h1M1178.6 364.7h1M1179.5 362.8V382.4M1178.5 364.7h1M1179.5 372.5h1M1180.4 363.4V380.7M1179.4 372.5h1M1180.4 380.5h1M1181.4 375.7V398.3M1180.4 380.5h1M1181.4 385.6h1M1182.3 370.5V387.3M1181.3 385.6h1M1182.3 377.4h1M1183.3 365.3V381.3M1182.3 377.4h1M1183.3 366.7h1M1184.2 360.4V373.6M1183.2 366.7h1M1184.2 361.2h1M1185.1 354.8V361.7M1184.1 361.2h1M1185.1 358.0h1M1186.1 344.8V370.2M1185.1 358.0h1M1186.1 355.6h1M1187.0 349.0V379.2M1186.0 355.6h1M1187.0 352.0h1M1188.0 332.2V353.5M1187.0 352.0h1M1188.0 348.4h1M1188.9 348.2V352.4M1187.9 348.4h1M1188.9 351.5h1M1189.8 346.0V358.3M1188.8 351.5h1M1189.8 354.5h1M1190.8 353.6V362.1M1189.8 354.5h1M1190.8 356.2h1M1191.7 349.6V362.2M1190.7 356.2h1M1191.7 354.8h1M1192.7 342.4V359.4M1191.7 354.8h1M1192.7 346.6h1M1193.6 338.3V348.5M1192.6 346.6h1M1193.6 338.9h1M1194.5 331.6V344.1M1193.5 338.9h1M1194.5 331.8h1M1195.5 322.0V338.1M1194.5 331.8h1M1195.5 323.9h1M1196.4 310.7V328.5M1195.4 323.9h1M1196.4 315.4h1M1197.4 313.0V315.7M1196.4 315.4h1M1197.4 314.3h1M1198.3 310.5V321.2M1197.3 314.3h1M1198.3 319.4h1M1199.2 317.8V332.4M1198.2 319.4h1M1199.2 327.2h1M1200.2 318.4V336.4M1199.2 327.2h1M1200.2 332.7h1M1201.1 331.7V341.0M1200.1 332.7h1M1201.1 338.4h1M1202.1 328.5V341.4M1201.1 338.4h1M1202.1 328.9h1M1203.0 324.6V331.2M1202.0 328.9h1M1203.0 325.2h1M1203.9 319.2V326.9M1202.9 325.2h1M1203.9 319.5h1M1204.9 315.1V324.0M1203.9 319.5h1M1204.9 320.5h1M1205.8 315.2V322.2M1204.8 320.5h1M1205.8 320.2h1M1206.8 314.4V322.5M1205.8 320.2h1M1206.8 318.5h1M1207.7 317.0V319.5M1206.7 318.5h1M1207.7 318.9h1M1208.6 318.4V320.8M1207.6 318.9h1M1208.6 320.4h1M1209.6 318.8V323.5M1208.6 320.4h1M1209.6 322.9h1M1210.5 317.7V328.5M1209.5 322.9h1M1210.5 326.3h1M1211.5 325.7V327.9M1210.5 326.3h1M1211.5 326.9h1M1212.4 324.1V336.2M1211.4 326.9h1M1212.4 333.5h1M1213.3 333.2V337.1M1212.3 333.5h1M1213.3 336.4h1M1214.3 329.1V341.4M1213.3 336.4h1M1214.3 339.0h1M1215.2 338.1V347.1M1214.2 339.0h1M1215.2 346.8h1M1216.2 340.0V351.3M1215.2 346.8h1M1216.2 350.5h1M1217.1 349.7V350.8M1216.1 350.5h1M1217.1 350.6h1M1218.0 338.0V351.2M1217.0 350.6h1M1218.0 343.3h1M1219.0 331.8V345.6M1218.0 343.3h1M1219.0 332.1h1M1219.9 317.4V335.7M1218.9 332.1h1M1219.9 323.6h1M1220.9 322.6V326.3M1219.9 323.6h1M1220.9 323.8h1M1221.8 319.3V329.0M1220.8 323.8h1M1221.8 320.3h1M1222.7 317.3V326.6M1221.7 320.3h1M1222.7 320.9h1M1223.7 313.1V321.8M1222.7 320.9h1M1223.7 315.5h1M1224.6 312.7V319.8M1223.6 315.5h1M1224.6 318.7h1M1225.6 316.2V321.2M1224.6 318.7h1M1225.6 320.3h1M1226.5 319.8V326.0M1225.5 320.3h1M1226.5 322.1h1M1227.4 321.1V327.0M1226.4 322.1h1M1227.4 325.7h1M1228.4 318.8V333.8M1227.4 325.7h1M1228.4 329.2h1M1229.3 326.7V339.5M1228.3 329.2h1M1229.3 332.5h1M1230.3 326.5V334.8M1229.3 332.5h1M1230.3 329.1h1M1231.2 326.7V330.0M1230.2 329.1h1M1231.2 329.0h1M1232.1 323.5V334.1M1231.1 329.0h1M1232.1 326.2h1M1233.1 320.6V327.5M1232.1 326.2h1M1233.1 320.9h1M1234.0 314.3V325.8M1233.0 320.9h1M1234.0 315.9h1M1235.0 310.0V318.1M1234.0 315.9h1M1235.0 312.5h1M1235.9 308.0V314.7M1234.9 312.5h1M1235.9 311.0h1M1236.8 308.3V312.7M1235.8 311.0h1M1236.8 308.9h1M1237.8 301.9V316.3M1236.8 308.9h1M1237.8 307.5h1M1238.7 303.8V309.2M1237.7 307.5h1M1238.7 305.8h1M1239.7 305.1V311.4M1238.7 305.8h1M1239.7 307.3h1M1240.6 306.8V307.9M1239.6 307.3h1M1240.6 307.5h1M1241.5 306.8V307.8M1240.5 307.5h1M1241.5 307.3h1M1242.5 304.7V308.5M1241.5 307.3h1M1242.5 306.0h1M1243.4 304.5V306.9M1242.4 306.0h1M1243.4 305.8h1M1244.4 304.1V307.2M1243.4 305.8h1M1244.4 305.0h1M1245.3 304.1V306.6M1244.3 305.0h1M1245.3 304.6h1M1246.2 301.1V305.7M1245.2 304.6h1M1246.2 302.3h1M1247.2 300.2V302.9M1246.2 302.3h1M1247.2 302.0h1M1248.1 300.1V303.5M1247.1 302.0h1M1248.1 301.7h1M1249.1 301.0V305.2M1248.1 301.7h1M1249.1 301.5h1M1250.0 294.9V302.7M1249.0 301.5h1M1250.0 300.9h1M1250.9 297.4V301.2M1249.9 300.9h1M1250.9 298.2h1M1251.9 295.7V299.4M1250.9 298.2h1M1251.9 297.3h1M1252.8 293.9V298.1M1251.8 297.3h1M1252.8 295.8h1M1253.8 294.5V297.7M1252.8 295.8h1M1253.8 296.6h1M1254.7 294.9V297.7M1253.7 296.6h1M1254.7 296.3h1M1255.6 294.8V300.4M1254.6 296.3h1M1255.6 299.6h1M1256.6 295.6V301.2M1255.6 299.6h1M1256.6 300.3h1M1257.5 298.1V300.7M1256.5 300.3h1M1257.5 298.7h1M1258.5 295.0V299.1M1257.5 298.7h1M1258.5 297.6h1M1259.4 293.9V303.9M1258.4 297.6h1M1259.4 294.9h1M1260.3 291.7V297.2M1259.3 294.9h1M1260.3 292.0h1M1261.3 289.3V294.2M1260.3 292.0h1M1261.3 293.4h1M1262.2 289.2V294.2M1261.2 293.4h1M1262.2 290.5h1M1263.2 288.7V292.9M1262.2 290.5h1M1263.2 289.5h1M1264.1 289.2V291.5M1263.1 289.5h1M1264.1 290.5h1M1265.0 287.2V291.7M1264.0 290.5h1M1265.0 289.1h1M1266.0 288.5V293.7M1265.0 289.1h1M1266.0 290.2h1M1266.9 289.1V292.5M1265.9 290.2h1M1266.9 290.2h1M1267.9 289.7V291.5M1266.9 290.2h1M1267.9 290.0h1M1268.8 288.0V290.5M1267.8 290.0h1M1268.8 288.4h1M1269.7 287.1V289.1M1268.7 288.4h1M1269.7 288.0h1M1270.7 285.3V288.8M1269.7 288.0h1M1270.7 286.5h1M1271.6 283.5V288.4M1270.6 286.5h1M1271.6 285.4h1M1272.6 284.0V286.0M1271.6 285.4h1M1272.6 285.1h1M1273.5 284.5V288.8M1272.5 285.1h1M1273.5 287.3h1M1274.4 283.0V289.6M1273.4 287.3h1M1274.4 283.5h1M1275.4 283.0V286.5M1274.4 283.5h1M1275.4 284.1h1M1276.3 283.0V285.2M1275.3 284.1h1M1276.3 284.2h1M1277.3 283.2V287.4M1276.3 284.2h1M1277.3 286.3h1M1278.2 286.0V294.4M1277.2 286.3h1M1278.2 289.5h1M1279.1 289.3V289.9M1278.1 289.5h1M1279.1 289.7h1M1280.1 289.4V291.7M1279.1 289.7h1M1280.1 291.3h1M1281.0 289.0V293.3M1280.0 291.3h1M1281.0 289.9h1M1282.0 288.1V290.2M1281.0 289.9h1M1282.0 288.3h1M1282.9 285.1V289.2M1281.9 288.3h1M1282.9 285.7h1M1283.8 281.9V286.8M1282.8 285.7h1M1283.8 284.1h1M1284.8 277.4V285.4M1283.8 284.1h1M1284.8 280.1h1M1285.7 276.0V280.4M1284.7 280.1h1M1285.7 276.8h1M1286.7 272.1V277.7M1285.7 276.8h1M1286.7 274.9h1M1287.6 273.0V276.4M1286.6 274.9h1M1287.6 275.8h1M1288.5 274.8V278.0M1287.5 275.8h1M1288.5 277.7h1M1289.5 276.7V279.4M1288.5 277.7h1M1289.5 278.1h1M1290.4 277.6V280.8M1289.4 278.1h1M1290.4 279.4h1M1291.4 272.7V280.0M1290.4 279.4h1M1291.4 278.4h1M1292.3 272.6V279.5M1291.3 278.4h1M1292.3 278.6h1M1293.2 277.0V279.9M1292.2 278.6h1M1293.2 277.3h1M1294.2 276.2V277.5M1293.2 277.3h1M1294.2 276.5h1M1295.1 276.1V277.3M1294.1 276.5h1M1295.1 276.8h1M1296.1 274.3V277.6M1295.1 276.8h1M1296.1 276.0h1M1297.0 269.7V277.1M1296.0 276.0h1M1297.0 275.2h1M1297.9 274.5V276.3M1296.9 275.2h1M1297.9 275.3h1M1298.9 273.6V277.7M1297.9 275.3h1M1298.9 277.2h1M1299.8 275.5V278.7M1298.8 277.2h1M1299.8 278.4h1M1300.8 278.0V284.3M1299.8 278.4h1M1300.8 283.3h1M1301.7 282.7V290.7M1300.7 283.3h1M1301.7 287.6h1M1302.6 284.5V289.7M1301.6 287.6h1M1302.6 288.9h1M1303.6 287.2V293.9M1302.6 288.9h1M1303.6 293.0h1M1304.5 288.7V295.8M1303.5 293.0h1M1304.5 289.9h1M1305.5 286.4V290.5M1304.5 289.9h1M1305.5 287.8h1M1306.4 283.5V289.5M1305.4 287.8h1M1306.4 284.2h1M1307.3 281.6V285.0M1306.3 284.2h1M1307.3 281.8h1M1308.3 277.7V282.3M1307.3 281.8h1M1308.3 279.2h1M1309.2 278.5V282.0M1308.2 279.2h1M1309.2 281.5h1M1310.2 280.1V283.5M1309.2 281.5h1M1310.2 282.7h1M1311.1 281.0V285.0M1310.1 282.7h1M1311.1 284.0h1M1312.0 282.7V284.6M1311.0 284.0h1M1312.0 283.2h1M1313.0 278.4V284.1M1312.0 283.2h1M1313.0 281.5h1M1313.9 277.6V281.9M1312.9 281.5h1M1313.9 278.8h1M1314.9 275.2V279.1M1313.9 278.8h1M1314.9 275.6h1M1315.8 272.1V276.3M1314.8 275.6h1M1315.8 275.7h1M1316.7 273.3V277.2M1315.7 275.7h1M1316.7 273.5h1M1317.7 271.8V275.1M1316.7 273.5h1M1317.7 274.8h1M1318.6 274.3V278.0M1317.6 274.8h1M1318.6 276.3h1M1319.6 275.4V280.2M1318.6 276.3h1M1319.6 278.4h1M1320.5 277.3V280.7M1319.5 278.4h1M1320.5 279.7h1M1321.4 279.3V283.8M1320.4 279.7h1M1321.4 282.8h1M1322.4 281.7V286.8M1321.4 282.8h1M1322.4 286.0h1M1323.3 284.7V288.4M1322.3 286.0h1M1323.3 287.7h1M1324.3 285.6V290.6M1323.3 287.7h1M1324.3 289.6h1M1325.2 287.6V296.9M1324.2 289.6h1M1325.2 295.2h1M1326.1 293.8V296.6M1325.1 295.2h1M1326.1 295.6h1M1327.1 294.3V299.6M1326.1 295.6h1M1327.1 299.1h1M1328.0 297.9V303.9M1327.0 299.1h1M1328.0 302.9h1M1329.0 302.4V305.5M1328.0 302.9h1M1329.0 305.0h1M1329.9 303.6V309.1M1328.9 305.0h1M1329.9 306.7h1M1330.8 304.5V307.4M1329.8 306.7h1M1330.8 305.3h1M1331.8 303.8V306.9M1330.8 305.3h1M1331.8 305.0h1M1332.7 302.2V308.8M1331.7 305.0h1M1332.7 303.7h1M1333.7 299.4V304.5M1332.7 303.7h1M1333.7 300.2h1M1334.6 298.0V300.9M1333.6 300.2h1M1334.6 299.9h1M1335.5 298.9V304.5M1334.5 299.9h1M1335.5 303.6h1M1336.5 303.0V308.8M1335.5 303.6h1M1336.5 307.9h1M1337.4 304.7V312.6M1336.4 307.9h1M1337.4 312.2h1M1338.4 310.4V319.1M1337.4 312.2h1M1338.4 318.5h1M1339.3 317.4V322.5M1338.3 318.5h1M1339.3 317.6h1M1340.2 308.9V319.0M1339.2 317.6h1M1340.2 312.0h1M1341.2 303.5V314.0M1340.2 312.0h1M1341.2 305.4h1M1342.1 299.8V306.1M1341.1 305.4h1M1342.1 300.1h1M1343.1 299.2V304.6M1342.1 300.1h1M1343.1 302.7h1M1344.0 302.4V304.0M1343.0 302.7h1M1344.0 303.5h1M1344.9 303.3V307.0M1343.9 303.5h1M1344.9 305.9h1M1345.9 299.8V308.9M1344.9 305.9h1M1345.9 300.5h1M1346.8 295.1V301.6M1345.8 300.5h1M1346.8 296.6h1M1347.8 293.7V297.6M1346.8 296.6h1M1347.8 294.3h1M1348.7 289.5V297.6M1347.7 294.3h1M1348.7 290.7h1M1349.6 285.5V291.5M1348.6 290.7h1M1349.6 288.6h1M1350.6 288.2V294.0M1349.6 288.6h1M1350.6 292.3h1M1351.5 291.3V295.5M1350.5 292.3h1M1351.5 295.0h1M1352.5 294.1V298.8M1351.5 295.0h1M1352.5 298.0h1M1353.4 297.6V301.1M1352.4 298.0h1M1353.4 300.6h1M1354.3 299.5V300.9M1353.3 300.6h1M1354.3 299.9h1M1355.3 294.7V302.4M1354.3 299.9h1M1355.3 295.4h1M1356.2 291.9V296.7M1355.2 295.4h1M1356.2 293.1h1M1357.2 289.7V295.2M1356.2 293.1h1M1357.2 290.3h1M1358.1 289.7V293.6M1357.1 290.3h1M1358.1 290.2h1M1359.0 286.5V290.6M1358.0 290.2h1M1359.0 288.0h1M1360.0 287.3V290.6M1359.0 288.0h1M1360.0 289.9h1M1360.9 289.6V293.1M1359.9 289.9h1M1360.9 292.3h1M1361.9 292.0V298.1M1360.9 292.3h1M1361.9 296.3h1M1362.8 295.5V301.8M1361.8 296.3h1M1362.8 297.9h1M1363.7 295.5V302.4M1362.7 297.9h1M1363.7 301.0h1M1364.7 296.5V301.7M1363.7 301.0h1M1364.7 299.4h1M1365.6 293.1V299.7M1364.6 299.4h1M1365.6 294.2h1M1366.6 290.3V294.4M1365.6 294.2h1M1366.6 291.5h1M1367.5 288.6V291.8M1366.5 291.5h1M1367.5 290.2h1M1368.4 284.6V291.4M1367.4 290.2h1M1368.4 286.6h1M1369.4 286.3V288.1M1368.4 286.6h1M1369.4 286.8h1M1370.3 286.0V296.1M1369.3 286.8h1M1370.3 292.8h1M1371.3 292.0V300.6M1370.3 292.8h1M1371.3 300.1h1M1372.2 296.1V300.6M1371.2 300.1h1M1372.2 296.8h1M1373.1 292.2V298.1M1372.1 296.8h1M1373.1 293.2h1M1374.1 286.0V294.7M1373.1 293.2h1M1374.1 286.6h1M1375.0 280.8V288.0M1374.0 286.6h1M1375.0 281.7h1M1376.0 281.4V284.0M1375.0 281.7h1M1376.0 283.6h1M1376.9 283.0V286.0M1375.9 283.6h1M1376.9 285.6h1M1377.8 285.4V289.1M1376.8 285.6h1M1377.8 288.1h1M1378.8 286.5V290.3M1377.8 288.1h1M1378.8 289.9h1M1379.7 286.5V290.3M1378.7 289.9h1M1379.7 286.8h1M1380.7 281.8V287.3M1379.7 286.8h1M1380.7 282.7h1M1381.6 277.7V283.4M1380.6 282.7h1M1381.6 278.6h1M1382.5 276.1V280.6M1381.5 278.6h1M1382.5 276.3h1M1383.5 274.1V277.1M1382.5 276.3h1M1383.5 274.4h1M1384.4 273.4V276.2M1383.4 274.4h1M1384.4 275.8h1M1385.4 272.8V289.1M1384.4 275.8h1M1385.4 277.4h1M1386.3 276.1V279.0M1385.3 277.4h1M1386.3 277.1h1M1387.2 274.2V278.3M1386.2 277.1h1M1387.2 274.6h1M1388.2 272.3V275.9M1387.2 274.6h1M1388.2 273.1h1M1389.1 272.8V275.2M1388.1 273.1h1M1389.1 273.6h1M1390.1 272.7V274.4M1389.1 273.6h1M1390.1 273.8h1M1391.0 273.3V276.7M1390.0 273.8h1M1391.0 276.0h1M1391.9 275.8V277.0M1390.9 276.0h1M1391.9 276.8h1M1392.9 274.4V282.4M1391.9 276.8h1M1392.9 281.4h1M1393.8 278.4V282.7M1392.8 281.4h1M1393.8 281.7h1M1394.8 280.4V282.8M1393.8 281.7h1M1394.8 281.2h1M1395.7 280.1V282.4M1394.7 281.2h1M1395.7 280.8h1M1396.6 280.0V281.7M1395.6 280.8h1M1396.6 280.4h1M1397.6 279.6V283.4M1396.6 280.4h1M1397.6 282.5h1M1398.5 281.0V283.1M1397.5 282.5h1M1398.5 282.7h1M1399.5 279.4V288.1M1398.5 282.7h1M1399.5 280.2h1M1400.4 274.5V283.9M1399.4 280.2h1M1400.4 276.2h1M1401.3 272.5V276.9M1400.3 276.2h1M1401.3 273.2h1M1402.3 270.7V273.7M1401.3 273.2h1M1402.3 271.5h1M1403.2 268.2V273.1M1402.2 271.5h1M1403.2 269.2h1M1404.2 266.1V269.5M1403.2 269.2h1M1404.2 267.5h1M1405.1 262.2V270.4M1404.1 267.5h1M1405.1 263.5h1M1406.0 259.1V264.3M1405.0 263.5h1M1406.0 260.0h1M1407.0 257.4V260.5M1406.0 260.0h1M1407.0 257.8h1M1407.9 257.6V260.2M1406.9 257.8h1M1407.9 259.0h1M1408.9 256.3V260.3M1407.9 259.0h1M1408.9 258.3h1M1409.8 257.9V261.1M1408.8 258.3h1M1409.8 260.2h1M1410.7 259.4V263.1M1409.7 260.2h1M1410.7 262.7h1M1411.7 262.1V262.9M1410.7 262.7h1M1411.7 262.4h1M1412.6 261.2V266.0M1411.6 262.4h1M1412.6 264.7h1M1413.6 264.0V267.1M1412.6 264.7h1M1413.6 266.3h1M1414.5 263.5V270.9M1413.5 266.3h1M1414.5 269.7h1M1415.4 264.1V270.3M1414.4 269.7h1M1415.4 265.7h1M1416.4 264.6V267.2M1415.4 265.7h1M1416.4 264.9h1M1417.3 263.3V266.5M1416.3 264.9h1M1417.3 263.6h1M1418.3 260.6V265.4M1417.3 263.6h1M1418.3 261.0h1M1419.2 259.1V261.7M1418.2 261.0h1M1419.2 259.4h1M1420.1 256.5V259.7M1419.1 259.4h1M1420.1 258.0h1M1421.1 255.9V261.2M1420.1 258.0h1M1421.1 260.0h1M1422.0 259.5V263.2M1421.0 260.0h1M1422.0 263.0h1M1423.0 261.5V267.0M1422.0 263.0h1M1423.0 266.6h1M1423.9 265.0V267.3M1422.9 266.6h1M1423.9 267.1h1M1424.8 263.7V269.2M1423.8 267.1h1M1424.8 269.0h1M1425.8 267.8V270.5M1424.8 269.0h1M1425.8 268.2h1M1426.7 266.0V270.3M1425.7 268.2h1M1426.7 266.3h1M1427.7 259.8V268.9M1426.7 266.3h1M1427.7 263.5h1M1428.6 260.1V264.8M1427.6 263.5h1M1428.6 261.7h1M1429.5 259.7V264.0M1428.5 261.7h1M1429.5 262.4h1M1430.5 261.5V265.2M1429.5 262.4h1M1430.5 264.4h1M1431.4 263.1V272.0M1430.4 264.4h1M1431.4 270.3h1M1432.4 269.8V276.1M1431.4 270.3h1M1432.4 273.6h1M1433.3 271.3V277.1M1432.3 273.6h1M1433.3 276.5h1M1434.2 275.3V281.7M1433.2 276.5h1M1434.2 278.3h1M1435.2 276.8V279.8M1434.2 278.3h1M1435.2 277.8h1M1436.1 275.7V278.6M1435.1 277.8h1M1436.1 277.0h1M1437.1 274.9V277.5M1436.1 277.0h1M1437.1 275.4h1M1438.0 272.6V276.0M1437.0 275.4h1M1438.0 273.6h1M1438.9 273.3V276.3M1437.9 273.6h1M1438.9 274.6h1M1439.9 272.8V275.8M1438.9 274.6h1M1439.9 275.6h1M1440.8 275.0V280.3M1439.8 275.6h1M1440.8 279.5h1M1441.8 279.0V285.8M1440.8 279.5h1M1441.8 285.6h1M1442.7 284.8V293.3M1441.7 285.6h1M1442.7 293.1h1M1443.6 291.9V297.6M1442.6 293.1h1M1443.6 296.6h1M1444.6 296.3V299.5M1443.6 296.6h1M1444.6 298.5h1M1445.5 298.0V299.8M1444.5 298.5h1M1445.5 299.5h1M1446.5 298.6V300.2M1445.5 299.5h1M1446.5 299.5h1M1447.4 294.3V300.7M1446.4 299.5h1M1447.4 294.8h1M1448.3 290.6V296.4M1447.3 294.8h1M1448.3 291.1h1M1449.3 287.2V292.9M1448.3 291.1h1M1449.3 288.8h1M1450.2 286.0V291.4M1449.2 288.8h1M1450.2 286.9h1M1451.2 285.4V287.4M1450.2 286.9h1M1451.2 286.1h1M1452.1 283.3V286.4M1451.1 286.1h1M1452.1 284.5h1M1453.0 282.4V285.2M1452.0 284.5h1M1453.0 283.7h1M1454.0 280.5V285.5M1453.0 283.7h1M1454.0 283.3h1M1454.9 280.8V283.5M1453.9 283.3h1M1454.9 281.4h1M1455.9 280.6V283.7M1454.9 281.4h1M1455.9 280.9h1M1456.8 276.4V281.6M1455.8 280.9h1M1456.8 280.6h1M1457.7 278.6V281.4M1456.7 280.6h1M1457.7 280.3h1M1458.7 279.0V281.6M1457.7 280.3h1M1458.7 279.8h1M1459.6 277.6V282.5M1458.6 279.8h1M1459.6 277.9h1M1460.6 275.0V278.2M1459.6 277.9h1M1460.6 275.3h1M1461.5 274.9V277.0M1460.5 275.3h1M1461.5 275.2h1M1462.4 274.3V275.6M1461.4 275.2h1M1462.4 275.4h1M1463.4 270.6V276.3M1462.4 275.4h1M1463.4 272.3h1M1464.3 271.1V272.7M1463.3 272.3h1M1464.3 272.1h1M1465.3 269.8V272.4M1464.3 272.1h1M1465.3 270.2h1M1466.2 266.3V270.4M1465.2 270.2h1M1466.2 269.6h1M1467.1 268.0V270.7M1466.1 269.6h1M1467.1 270.3h1M1468.1 269.9V274.4M1467.1 270.3h1M1468.1 273.3h1M1469.0 272.2V277.3M1468.0 273.3h1M1469.0 276.6h1M1470.0 275.2V278.4M1469.0 276.6h1M1470.0 277.8h1M1470.9 276.6V282.2M1469.9 277.8h1M1470.9 280.3h1M1471.8 279.6V286.2M1470.8 280.3h1M1471.8 283.3h1M1472.8 282.1V286.0M1471.8 283.3h1M1472.8 285.6h1M1473.7 283.4V285.8M1472.7 285.6h1M1473.7 284.3h1M1474.7 277.4V285.2M1473.7 284.3h1M1474.7 277.7h1M1475.6 269.4V278.3M1474.6 277.7h1M1475.6 270.5h1M1476.5 265.2V270.8M1475.5 270.5h1M1476.5 266.7h1M1477.5 266.3V268.5M1476.5 266.7h1M1477.5 267.9h1M1478.4 266.1V268.2M1477.4 267.9h1M1478.4 267.3h1M1479.4 266.6V269.0M1478.4 267.3h1M1479.4 268.7h1M1480.3 267.2V272.2M1479.3 268.7h1M1480.3 268.0h1M1481.2 266.2V269.2M1480.2 268.0h1M1481.2 267.2h1M1482.2 266.2V267.6M1481.2 267.2h1M1482.2 266.6h1M1483.1 264.3V268.0M1482.1 266.6h1M1483.1 264.5h1M1484.1 260.7V266.3M1483.1 264.5h1M1484.1 262.9h1M1485.0 261.8V264.0M1484.0 262.9h1M1485.0 262.4h1M1485.9 259.4V263.6M1484.9 262.4h1M1485.9 260.6h1M1486.9 257.8V260.9M1485.9 260.6h1M1486.9 258.2h1M1487.8 255.3V259.3M1486.8 258.2h1M1487.8 255.6h1M1488.8 251.6V256.0M1487.8 255.6h1M1488.8 255.0h1M1489.7 249.2V256.2M1488.7 255.0h1M1489.7 252.8h1M1490.6 250.5V253.4M1489.6 252.8h1M1490.6 251.1h1M1491.6 249.5V251.6M1490.6 251.1h1M1491.6 249.8h1M1492.5 249.0V250.4M1491.5 249.8h1M1492.5 250.0h1M1493.5 246.0V252.3M1492.5 250.0h1M1493.5 248.8h1M1494.4 245.3V250.4M1493.4 248.8h1M1494.4 246.0h1M1495.3 244.2V246.6M1494.3 246.0h1M1495.3 245.9h1M1496.3 245.3V246.7M1495.3 245.9h1M1496.3 245.7h1M1497.2 244.1V247.2M1496.2 245.7h1M1497.2 244.4h1M1498.2 242.6V245.7M1497.2 244.4h1M1498.2 244.6h1M1499.1 242.0V247.5M1498.1 244.6h1M1499.1 246.0h1M1500.0 243.6V248.7M1499.0 246.0h1M1500.0 245.0h1M1501.0 242.2V246.2M1500.0 245.0h1M1501.0 243.3h1M1501.9 239.5V243.8M1500.9 243.3h1M1501.9 242.6h1M1502.9 242.2V243.9M1501.9 242.6h1M1502.9 243.0h1M1503.8 241.7V243.2M1502.8 243.0h1M1503.8 242.9h1M1504.7 242.5V246.2M1503.7 242.9h1M1504.7 245.0h1M1505.7 242.8V245.3M1504.7 245.0h1M1505.7 243.7h1M1506.6 242.3V249.5M1505.6 243.7h1M1506.6 245.6h1M1507.6 244.5V248.4M1506.6 245.6h1M1507.6 247.3h1M1508.5 246.4V249.0M1507.5 247.3h1M1508.5 248.1h1M1509.4 247.3V252.0M1508.4 248.1h1M1509.4 250.1h1M1510.4 245.5V252.0M1509.4 250.1h1M1510.4 246.8h1M1511.3 244.0V247.3M1510.3 246.8h1M1511.3 244.4h1M1512.3 239.9V247.2M1511.3 244.4h1M1512.3 241.8h1M1513.2 237.1V243.3M1512.2 241.8h1M1513.2 239.6h1M1514.1 237.3V242.0M1513.1 239.6h1M1514.1 238.4h1M1515.1 232.7V239.0M1514.1 238.4h1M1515.1 236.3h1M1516.0 232.6V237.9M1515.0 236.3h1M1516.0 233.8h1M1517.0 229.0V235.6M1516.0 233.8h1M1517.0 231.5h1M1517.9 226.6V231.8M1516.9 231.5h1M1517.9 230.6h1M1518.8 224.0V232.1M1517.8 230.6h1M1518.8 227.3h1M1519.8 225.6V227.6M1518.8 227.3h1M1519.8 226.1h1M1520.7 225.1V227.5M1519.7 226.1h1M1520.7 226.9h1M1521.7 226.5V227.9M1520.7 226.9h1M1521.7 227.6h1M1522.6 226.1V228.5M1521.6 227.6h1M1522.6 226.4h1M1523.5 220.5V227.1M1522.5 226.4h1M1523.5 224.6h1M1524.5 223.1V226.9M1523.5 224.6h1M1524.5 223.4h1M1525.4 221.7V225.6M1524.4 223.4h1M1525.4 224.0h1M1526.4 221.0V224.4M1525.4 224.0h1M1526.4 224.1h1M1527.3 223.8V227.0M1526.3 224.1h1M1527.3 225.8h1M1528.2 225.4V227.1M1527.2 225.8h1M1528.2 226.3h1M1529.2 224.0V227.3M1528.2 226.3h1M1529.2 225.8h1M1530.1 224.4V226.9M1529.1 225.8h1M1530.1 224.8h1M1531.1 221.5V225.1M1530.1 224.8h1M1531.1 223.0h1M1532.0 221.6V223.6M1531.0 223.0h1M1532.0 222.4h1"/>
</g>
<path d="M375.3 276.3h15v13.6l-7.6 7-7.4-7z" fill="#3f7fe3"/>
<g fill="none" stroke="#000" stroke-width="1.6" stroke-linecap="round" stroke-linejoin="miter">
<path d="M451.3 238.3L388.3 271.1M392.6 259.5L388.3 271.1L400 275.1"/>
<path d="M738.4 342.7V387.4M729.9 379L738.4 387.6L747.2 379"/>
<path d="M808.1 512.6L749 489.6M760 485.5L749 489.6L753.8 500.5"/>
</g>
</svg>
<div id="plbox"></div>
<svg id="tvlogo" width="24" height="13" viewBox="0 4 36 18" style="position:absolute;left:10px;top:704px;width:23.8px;height:11.9px"><path fill="#15171c" d="M14 22H7V11H0V4h14v18zM28 22h-8l7.5-18h8L28 22z"/><circle fill="#15171c" cx="20" cy="8" r="4"/></svg>
<div class="t" id="cap" style="left:8.20px;top:6.43px;font-size:10.6px;color:#131722;transform:scaleX(0.9167);-webkit-text-stroke:0.15px #131722;">AlgoFuego created with TradingView.com, Nov 11, 2025 20:16 UTC</div>
<div class="t" id="lg1" style="left:14.60px;top:28.56px;font-size:10.8px;color:#131722;transform:scaleX(0.8805);-webkit-text-stroke:0.15px #131722;">Dow Jones Industrial Average Index · 1D · DJCFD</div>
<div class="t" id="lgO" style="left:233.00px;top:28.56px;font-size:10.8px;color:#131722;transform:scaleX(0.6900);-webkit-text-stroke:0.15px #131722;">O</div>
<div class="t" id="lgOv" style="left:239.50px;top:28.56px;font-size:10.8px;color:#3179f5;transform:scaleX(0.8846);-webkit-text-stroke:0.15px #3179f5;">47,384.51</div>
<div class="t" id="lgH" style="left:288.80px;top:28.56px;font-size:10.8px;color:#131722;transform:scaleX(0.6912);-webkit-text-stroke:0.15px #131722;">H</div>
<div class="t" id="lgHv" style="left:295.00px;top:28.56px;font-size:10.8px;color:#3179f5;transform:scaleX(0.8846);-webkit-text-stroke:0.15px #3179f5;">47,969.22</div>
<div class="t" id="lgL" style="left:344.50px;top:28.56px;font-size:10.8px;color:#131722;transform:scaleX(0.6982);-webkit-text-stroke:0.15px #131722;">L</div>
<div class="t" id="lgLv" style="left:349.30px;top:28.56px;font-size:10.8px;color:#3179f5;transform:scaleX(0.8741);-webkit-text-stroke:0.15px #3179f5;">47,384.51</div>
<div class="t" id="lgC" style="left:397.50px;top:28.56px;font-size:10.8px;color:#131722;transform:scaleX(0.6400);-webkit-text-stroke:0.15px #131722;">C</div>
<div class="t" id="lgCv" style="left:403.00px;top:28.56px;font-size:10.8px;color:#3179f5;transform:scaleX(0.9012);-webkit-text-stroke:0.15px #3179f5;">47,958.96</div>
<div class="t" id="lgChg" style="left:453.00px;top:28.56px;font-size:10.8px;color:#3179f5;transform:scaleX(0.8536);-webkit-text-stroke:0.15px #3179f5;">+590.32 (+1.25%)</div>
<div class="t" id="lgVol" style="left:533.30px;top:28.56px;font-size:10.8px;color:#131722;transform:scaleX(0.8325);-webkit-text-stroke:0.15px #131722;">Vol</div>
<div class="t" id="lgVolv" style="left:546.30px;top:28.56px;font-size:10.8px;color:#3179f5;transform:scaleX(0.8124);-webkit-text-stroke:0.15px #3179f5;">324 M</div>
<div class="t" id="lgChg2" style="left:576.30px;top:28.56px;font-size:10.8px;color:#131722;transform:scaleX(0.8525);-webkit-text-stroke:0.15px #131722;">+590.32 (+1.25%)</div>
<div class="t" id="lg2" style="left:14.60px;top:42.06px;font-size:10.8px;color:#131722;transform:scaleX(0.8829);-webkit-text-stroke:0.15px #131722;">AVA Backtest [AlgoFuego]</div>
<div class="t" id="bpT" style="left:462.20px;top:62.55px;font-size:21.8px;color:#2b7ae4;letter-spacing:0.367px;-webkit-text-stroke:0.25px #2b7ae4;">Backtesting Parameters</div>
<div class="t" id="bp1" style="left:462.90px;top:93.53px;font-size:14.5px;color:#000;transform:scaleX(0.9800);-webkit-text-stroke:0.2px #000;">Trade Side: Long</div>
<div class="t" id="bp2" style="left:462.90px;top:123.23px;font-size:14.5px;color:#000;transform:scaleX(0.9756);-webkit-text-stroke:0.2px #000;">Entry Based On:</div>
<div class="t" id="bp3" style="left:479.20px;top:138.13px;font-size:14.5px;color:#000;letter-spacing:0.179px;-webkit-text-stroke:0.2px #000;">• AVA Signal: Entry occurs when the AVA line shifts from bearish to bullish.</div>
<div class="t" id="bp4" style="left:462.90px;top:167.23px;font-size:14.5px;color:#000;transform:scaleX(0.9729);-webkit-text-stroke:0.2px #000;">Exit Based On:</div>
<div class="t" id="bp5" style="left:479.20px;top:182.13px;font-size:14.5px;color:#000;letter-spacing:0.248px;-webkit-text-stroke:0.2px #000;">• AVA Signal: Exit when the AVA trend flips direction.</div>
<div class="t" id="an1" style="left:460.50px;top:227.93px;font-size:14.5px;color:#000;transform:scaleX(0.9729);-webkit-text-stroke:0.2px #000;">Exit Based On:</div>
<div class="t" id="an2" style="left:459.70px;top:249.53px;font-size:14.5px;color:#ff9b26;letter-spacing:0.206px;-webkit-text-stroke:0.25px #ff9b26;">• AVA Signal: Exit when the AVA trend flips direction.</div>
<div class="t" id="an3" style="left:460.50px;top:270.83px;font-size:14.5px;color:#ff9b26;transform:scaleX(0.9866);-webkit-text-stroke:0.2px #ff9b26;">AVA Trend [Bearish]</div>
<div class="t" id="an4" style="left:735.90px;top:319.63px;font-size:14.5px;color:#000;transform:scaleX(0.9782);-webkit-text-stroke:0.2px #000;">Trade Side: Long</div>
<div class="t" id="an5" style="left:838.90px;top:519.53px;font-size:14.5px;color:#000;transform:scaleX(0.9719);-webkit-text-stroke:0.2px #000;">Entry Based On:</div>
<div class="t" id="an6" style="left:841.60px;top:540.83px;font-size:14.5px;color:#2b7ae4;letter-spacing:0.180px;-webkit-text-stroke:0.25px #2b7ae4;">• AVA Signal: Entry occurs when the AVA line shifts from bearish to bullish.</div>
<div class="t" id="an7" style="left:841.40px;top:563.13px;font-size:14.5px;color:#2b7ae4;transform:scaleX(0.9953);-webkit-text-stroke:0.2px #2b7ae4;">AVA Trend [Bullish]</div>
<div class="t" id="pl0" style="left:1540.70px;top:28.44px;font-size:10.7px;color:#131722;transform:scaleX(0.8960);-webkit-text-stroke:0.15px #131722;">21,000.00</div>
<div class="t" id="pl1" style="left:1540.70px;top:53.76px;font-size:10.7px;color:#131722;transform:scaleX(0.8960);-webkit-text-stroke:0.15px #131722;">20,000.00</div>
<div class="t" id="pl2" style="left:1540.70px;top:80.39px;font-size:10.7px;color:#131722;transform:scaleX(0.8960);-webkit-text-stroke:0.15px #131722;">19,000.00</div>
<div class="t" id="pl3" style="left:1540.70px;top:108.45px;font-size:10.7px;color:#131722;transform:scaleX(0.8960);-webkit-text-stroke:0.15px #131722;">18,000.00</div>
<div class="t" id="pl4" style="left:1540.70px;top:138.11px;font-size:10.7px;color:#131722;transform:scaleX(0.8960);-webkit-text-stroke:0.15px #131722;">17,000.00</div>
<div class="t" id="pl5" style="left:1540.70px;top:169.58px;font-size:10.7px;color:#131722;transform:scaleX(0.8960);-webkit-text-stroke:0.15px #131722;">16,000.00</div>
<div class="t" id="pl6" style="left:1540.70px;top:196.20px;font-size:10.7px;color:#131722;transform:scaleX(0.8960);-webkit-text-stroke:0.15px #131722;">15,200.00</div>
<div class="t" id="pl7" style="left:1540.70px;top:224.26px;font-size:10.7px;color:#131722;transform:scaleX(0.8960);-webkit-text-stroke:0.15px #131722;">14,400.00</div>
<div class="t" id="pl8" style="left:1540.70px;top:253.92px;font-size:10.7px;color:#131722;transform:scaleX(0.8960);-webkit-text-stroke:0.15px #131722;">13,600.00</div>
<div class="t" id="pl9" style="left:1540.70px;top:285.39px;font-size:10.7px;color:#131722;transform:scaleX(0.8960);-webkit-text-stroke:0.15px #131722;">12,800.00</div>
<div class="t" id="pl10" style="left:1540.70px;top:316.73px;font-size:10.7px;color:#131722;transform:scaleX(0.8960);-webkit-text-stroke:0.15px #131722;">12,050.00</div>
<div class="t" id="pl11" style="left:1540.70px;top:350.08px;font-size:10.7px;color:#131722;transform:scaleX(0.9109);-webkit-text-stroke:0.15px #131722;">11,300.00</div>
<div class="t" id="pl12" style="left:1540.70px;top:378.39px;font-size:10.7px;color:#131722;transform:scaleX(0.8960);-webkit-text-stroke:0.15px #131722;">10,700.00</div>
<div class="t" id="pl13" style="left:1540.70px;top:408.34px;font-size:10.7px;color:#131722;transform:scaleX(0.8960);-webkit-text-stroke:0.15px #131722;">10,100.00</div>
<div class="t" id="pl14" style="left:1540.70px;top:440.13px;font-size:10.7px;color:#131722;transform:scaleX(0.9084);-webkit-text-stroke:0.15px #131722;">9,500.00</div>
<div class="t" id="pl15" style="left:1540.70px;top:473.99px;font-size:10.7px;color:#131722;transform:scaleX(0.9084);-webkit-text-stroke:0.15px #131722;">8,900.00</div>
<div class="t" id="pl16" style="left:1540.70px;top:510.21px;font-size:10.7px;color:#131722;transform:scaleX(0.9084);-webkit-text-stroke:0.15px #131722;">8,300.00</div>
<div class="t" id="pl17" style="left:1540.70px;top:535.85px;font-size:10.7px;color:#131722;transform:scaleX(0.9084);-webkit-text-stroke:0.15px #131722;">7,900.00</div>
<div class="t" id="pl18" style="left:1540.70px;top:562.81px;font-size:10.7px;color:#131722;transform:scaleX(0.9084);-webkit-text-stroke:0.15px #131722;">7,500.00</div>
<div class="t" id="pl19" style="left:1540.70px;top:587.62px;font-size:10.7px;color:#131722;transform:scaleX(0.9084);-webkit-text-stroke:0.15px #131722;">7,150.00</div>
<div class="t" id="pl20" style="left:1540.70px;top:614.43px;font-size:10.7px;color:#131722;transform:scaleX(0.9084);-webkit-text-stroke:0.15px #131722;">6,790.00</div>
<div class="t" id="pl21" style="left:1540.70px;top:639.89px;font-size:10.7px;color:#131722;transform:scaleX(0.9084);-webkit-text-stroke:0.15px #131722;">6,465.00</div>
<div class="t" id="plc" style="left:1540.80px;top:218.94px;font-size:10.7px;color:#3179f5;transform:scaleX(0.8939);-webkit-text-stroke:0.15px #3179f5;z-index:6;">14,550.35</div>
<div class="t" id="tl0" style="left:42.90px;top:668.84px;font-size:10.7px;color:#131722;font-weight:700;transform:scaleX(0.9335);-webkit-text-stroke:0.15px #131722;">2007</div>
<div class="t" id="tl1" style="left:164.30px;top:668.84px;font-size:10.7px;color:#131722;transform:scaleX(0.9070);-webkit-text-stroke:0.15px #131722;">Jul</div>
<div class="t" id="tl2" style="left:278.65px;top:668.84px;font-size:10.7px;color:#131722;font-weight:700;transform:scaleX(0.9335);-webkit-text-stroke:0.15px #131722;">2008</div>
<div class="t" id="tl3" style="left:401.30px;top:668.84px;font-size:10.7px;color:#131722;transform:scaleX(0.9070);-webkit-text-stroke:0.15px #131722;">Jul</div>
<div class="t" id="tl4" style="left:516.65px;top:668.84px;font-size:10.7px;color:#131722;font-weight:700;transform:scaleX(0.9335);-webkit-text-stroke:0.15px #131722;">2009</div>
<div class="t" id="tl5" style="left:638.55px;top:668.84px;font-size:10.7px;color:#131722;transform:scaleX(0.9070);-webkit-text-stroke:0.15px #131722;">Jul</div>
<div class="t" id="tl6" style="left:753.65px;top:668.84px;font-size:10.7px;color:#131722;font-weight:700;transform:scaleX(0.9335);-webkit-text-stroke:0.15px #131722;">2010</div>
<div class="t" id="tl7" style="left:875.55px;top:668.84px;font-size:10.7px;color:#131722;transform:scaleX(0.9070);-webkit-text-stroke:0.15px #131722;">Jul</div>
<div class="t" id="tl8" style="left:990.90px;top:668.84px;font-size:10.7px;color:#131722;font-weight:700;transform:scaleX(0.9574);-webkit-text-stroke:0.15px #131722;">2011</div>
<div class="t" id="tl9" style="left:1113.55px;top:668.84px;font-size:10.7px;color:#131722;transform:scaleX(0.9070);-webkit-text-stroke:0.15px #131722;">Jul</div>
<div class="t" id="tl10" style="left:1228.40px;top:668.84px;font-size:10.7px;color:#131722;font-weight:700;transform:scaleX(0.9335);-webkit-text-stroke:0.15px #131722;">2012</div>
<div class="t" id="tl11" style="left:1350.80px;top:668.84px;font-size:10.7px;color:#131722;transform:scaleX(0.9070);-webkit-text-stroke:0.15px #131722;">Jul</div>
<div class="t" id="tl12" style="left:1463.40px;top:668.84px;font-size:10.7px;color:#131722;font-weight:700;transform:scaleX(0.9335);-webkit-text-stroke:0.15px #131722;">2013</div>
<div class="t" id="t_h" style="left:1360.05px;top:35.91px;font-size:10.5px;color:#fff;transform:scaleX(0.9993);-webkit-text-stroke:0.3px #fff;z-index:3;">Long AVA Signal <span class="ar">→</span> AVA Signal</div>
<div class="t" id="t_win" style="left:1363.10px;top:60.51px;font-size:10.5px;color:#fff;letter-spacing:0.453px;-webkit-text-stroke:0.3px #fff;z-index:3;">Win</div>
<div class="t" id="t_loss" style="left:1417.25px;top:60.51px;font-size:10.5px;color:#fff;transform:scaleX(0.9690);-webkit-text-stroke:0.3px #fff;z-index:3;">Loss</div>
<div class="t" id="t_tot" style="left:1477.25px;top:60.51px;font-size:10.5px;color:#fff;letter-spacing:0.828px;-webkit-text-stroke:0.3px #fff;z-index:3;">Total</div>
<div class="t" id="t_20" style="left:1366.80px;top:84.91px;font-size:10.5px;color:#4a86e8;transform:scaleX(0.9925);z-index:3;">20</div>
<div class="t" id="t_8" style="left:1425.20px;top:84.91px;font-size:10.5px;color:#ff9b26;transform:scaleX(0.9583);z-index:3;">8</div>
<div class="t" id="t_28" style="left:1484.20px;top:84.91px;font-size:10.5px;color:#6a6d78;transform:scaleX(0.9925);z-index:3;">28</div>
<div class="t" id="t_ret" style="left:1415.80px;top:108.71px;font-size:10.5px;color:#fff;letter-spacing:0.206px;-webkit-text-stroke:0.3px #fff;z-index:3;">Returns</div>
<div class="t" id="t_max" style="left:1362.40px;top:133.71px;font-size:10.5px;color:#fff;letter-spacing:0.078px;-webkit-text-stroke:0.3px #fff;z-index:3;">Max</div>
<div class="t" id="t_min" style="left:1419.10px;top:133.71px;font-size:10.5px;color:#fff;letter-spacing:0.439px;-webkit-text-stroke:0.3px #fff;z-index:3;">Min</div>
<div class="t" id="t_avg" style="left:1481.10px;top:133.71px;font-size:10.5px;color:#fff;transform:scaleX(0.9941);-webkit-text-stroke:0.3px #fff;z-index:3;">Avg</div>
<div class="t" id="t_v1" style="left:1349.60px;top:157.71px;font-size:10.5px;color:#4a86e8;transform:scaleX(0.9665);z-index:3;">+240.16%</div>
<div class="t" id="t_v2" style="left:1409.00px;top:157.71px;font-size:10.5px;color:#ff9b26;transform:scaleX(0.9716);z-index:3;">-10.00%</div>
<div class="t" id="t_v3" style="left:1469.70px;top:157.71px;font-size:10.5px;color:#4a86e8;transform:scaleX(0.9677);z-index:3;">+30.85%</div>
<div class="t" id="t_wr" style="left:1375.95px;top:182.81px;font-size:10.5px;color:#fff;letter-spacing:0.302px;-webkit-text-stroke:0.3px #fff;z-index:3;">Win Rate</div>
<div class="t" id="t_wrv" style="left:1472.90px;top:182.81px;font-size:10.5px;color:#4a86e8;transform:scaleX(0.9600);z-index:3;">71.43%</div>
<div class="t" id="t_c1" style="left:1353.25px;top:206.81px;font-size:10.5px;color:#fff;letter-spacing:0.349px;-webkit-text-stroke:0.3px #fff;z-index:3;">Compound Return</div>
<div class="t" id="t_c2" style="left:1353.85px;top:218.21px;font-size:10.5px;color:#fff;letter-spacing:0.443px;-webkit-text-stroke:0.3px #fff;z-index:3;">After Commission</div>
<div class="t" id="t_cv" style="left:1461.10px;top:212.41px;font-size:10.5px;color:#4a86e8;transform:scaleX(0.9820);z-index:3;">+17615.94%</div>
<div class="t" id="mx" style="left:380.30px;top:279.38px;font-size:9px;color:#fff;font-weight:700;transform:scaleX(0.9171);z-index:5;">x</div>
<div class="t" id="mlong" style="left:735.80px;top:414.91px;font-size:7.2px;color:#fff;font-weight:700;transform:scaleX(0.9623);z-index:5;">Long</div>
<div class="t" id="logo" style="left:40.30px;top:702.92px;font-size:16.4px;color:#15171c;font-weight:700;letter-spacing:0.135px;-webkit-text-stroke:0.35px #15171c;">TradingView</div>
</body></html>
